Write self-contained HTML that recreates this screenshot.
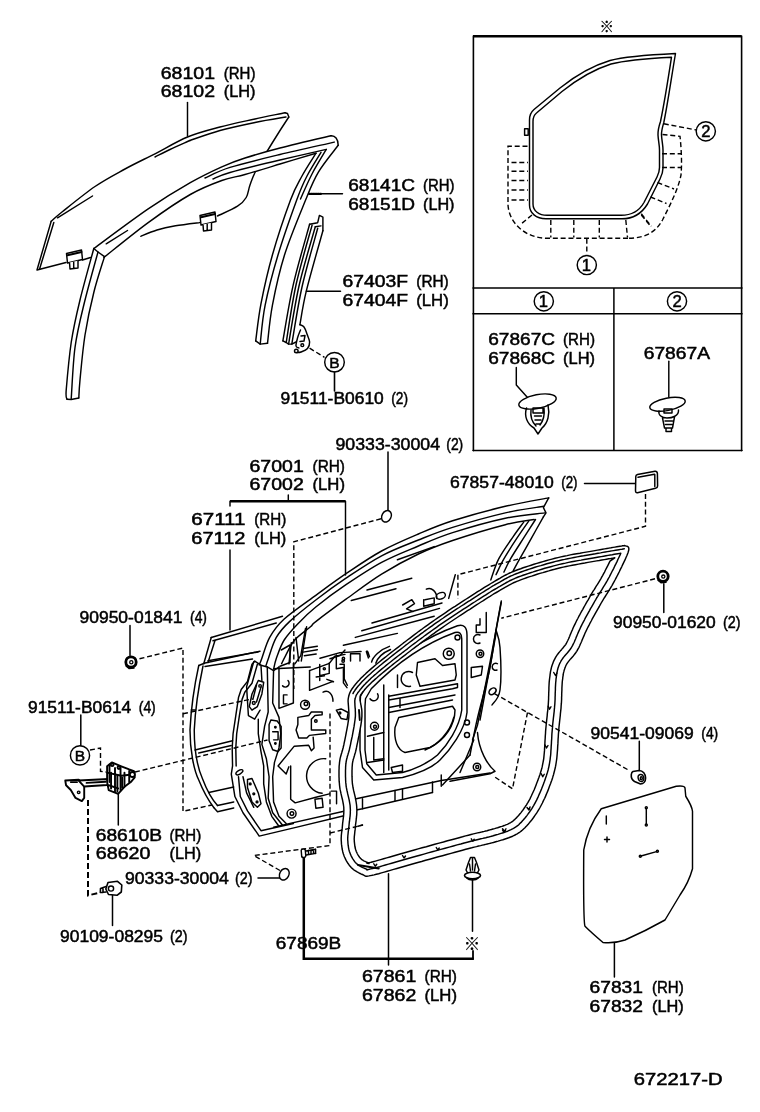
<!DOCTYPE html>
<html><head><meta charset="utf-8"><title>672217-D</title>
<style>
html,body{margin:0;padding:0;background:#fff}
svg{display:block}
text{font-family:"Liberation Sans",sans-serif;fill:#000;stroke:#000;stroke-width:.5}
.ref{font-family:"Liberation Sans","Noto Sans CJK JP","DejaVu Sans",sans-serif;stroke-width:.2}
.l,.t,.k,.d,.dk,.w{vector-effect:non-scaling-stroke}
.l{fill:none;stroke:#000;stroke-width:1.45;stroke-linecap:round;stroke-linejoin:round}
.h{fill:none;stroke:#000;stroke-width:1.9;stroke-linecap:round;stroke-linejoin:round;vector-effect:non-scaling-stroke}
.wh{fill:#fff;stroke:#000;stroke-width:1.9;stroke-linejoin:round;vector-effect:non-scaling-stroke}
.t{fill:none;stroke:#000;stroke-width:1}
.k{fill:none;stroke:#000;stroke-width:2.5}
.d{fill:none;stroke:#000;stroke-width:1.4;stroke-dasharray:5 2.8}
.dk{fill:none;stroke:#000;stroke-width:2;stroke-dasharray:6 3}
.w{fill:#fff;stroke:#000;stroke-width:1.45;stroke-linejoin:round}
</style></head><body>
<svg width="760" height="1112" viewBox="0 0 760 1112">
<rect width="760" height="1112" fill="#fff"/>
<!-- ===== inset box ===== -->
<g id="inset">
<path class="k" d="M473 36.2H741.5"/>
<path class="l" style="stroke-width:1.6" d="M473.4 36V450.6M741.6 36V450.6"/>
<path class="l" style="stroke-width:1.5" d="M473 288H742M473 313.8H742M473 450.6H742M613.9 288V450.6"/>
<!-- mini weatherstrip loop (double line) -->
<path class="l" d="M529.5 205V120C529.5 115 531 112 534 109.5L560 88C575 76 590 66.5 610 60.5C625 56.5 645 55 675.5 53.5C671 80 667.5 105 663.8 122.500C662.500 127 661.300 131 661.500 135C661.800 141 663 145 663 150V168C663 172 662 175 660 179L647.500 204C642 213 635 218.800 622 218.800H546C536 218.800 529.5 213 529.500 205Z"/>
<path class="l" d="M533 204V121.500C533 117.500 534 115 536.5 113L562 91.500C577 79.500 592 70 611 64C626 60 645 58.500 671.5 57.2C668 80 664 105 660.500 121.500C659 126 657.800 131 658 135C658.300 141 659.500 145 659.500 150V167.500C659.500 171 658.500 174 657 177L644 202.500C639.500 210.500 633 215.300 621 215.300H547C539 215.300 533 211 533 204Z"/>
<rect class="l" x="524.6" y="128.800" width="3.600" height="6.400"/>
<!-- dashed region 1 -->
<path class="d" d="M527.500 146.300H508V205C509 222 524 238.300 548 238.300H628"/>
<path class="d" style="stroke-width:1.6" d="M511.500 162.500H528M511.500 171.300H528M511.500 180.500H528M511.500 190H528M511.500 200H528"/>
<path class="d" d="M550.800 220V237.500M573.800 220V237.500M599.300 220V237.500M625.800 220L627.500 237.500M532 215L521 224M641.300 215L650 225.500"/>
<path class="d" d="M586.800 238.800V254.500"/>
<!-- dashed region 2 -->
<path class="d" d="M663.800 123.800L696.500 130M662.500 134.500L680 136.300C681.500 150 682 165 681 175C678 190 670 205 662.500 220C657 230 648 238.300 628 238.300"/>
<path class="d" d="M662 153.800H681M662 167.500H681M657.500 182.500L674 189M650.500 197L666.500 203.500M641.300 213.800L651.300 226.300"/>
<circle class="l" cx="586.800" cy="265" r="9.600"/>
<circle class="l" cx="705.800" cy="131.300" r="9.600"/>
<circle class="l" cx="543.800" cy="301.300" r="9.600"/>
<circle class="l" cx="677" cy="301.300" r="9.600"/>
<!-- clips -->
<path class="l" d="M516.300 367.500V385L527.500 397.500"/>
<g transform="translate(537.5,401.5) rotate(-11)"><ellipse class="w" cx="0" cy="0" rx="19" ry="6.800"/></g>
<path class="l" d="M526.500 408C524 416 527 424 534 428L538 434L542 428C548 423 550 414 548 405M531 410C530 418 533 423 536 426M544 408C545 416 543 421 540 425M533 408H543V413H533ZM534.500 416H541.500M535 420H541M536 424H540.500"/>
<path class="l" d="M668.800 361.300V397"/>
<g transform="translate(667.5,404.300) rotate(-11)"><ellipse class="w" cx="0" cy="0" rx="18" ry="6.200"/></g>
<path class="l" d="M659 411C658 415 662 418 667 418C672 418 679 416 678.500 410M664 409H672V413H664ZM662.500 418L664.500 428H672.500L674.500 417M665 421H672.500M665.500 424.500H672M666 428V431.500H671.500V428"/>
</g>
<g id="glass">
<path class="l" d="M51.2 221.2C53.0 219.7 54.7 217.8 62.0 212.0C69.3 206.2 84.5 193.7 95.0 186.5C105.5 179.3 115.0 174.5 125.0 169.0C135.0 163.5 144.6 159.1 155.0 153.8C165.4 148.4 176.7 141.5 187.5 137.0C198.3 132.5 208.8 130.0 220.0 127.0C231.2 124.0 244.2 121.4 255.0 119.0C265.8 116.6 280.0 113.8 285.0 112.7"/>
<path class="l" d="M285.0 112.7L287.5 113.5L288.8 117.0"/>
<path class="l" d="M288.8 117.0C286.0 121.2 277.9 133.7 272.5 142.5C267.1 151.3 260.0 162.9 256.2 170.0C252.5 177.1 251.7 180.4 250.0 185.0C248.3 189.6 248.3 194.0 246.2 197.5C244.2 201.0 242.3 203.2 237.5 206.2C232.7 209.3 220.8 214.4 217.5 216.0"/>
<path class="l" d="M190.0 140.5C195.0 138.8 209.2 133.5 220.0 130.5C230.8 127.5 244.0 124.8 255.0 122.5C266.0 120.2 280.8 117.9 286.0 117.0"/>
<path class="l" d="M155.0 157.0C157.5 155.8 164.2 152.2 170.0 149.5C175.8 146.8 186.7 142.0 190.0 140.5"/>
<path class="l" d="M57.5 217.8L92.5 196.0"/>
<path class="l" d="M51.2 221.2L37.0 270.0L66.0 262.5"/>
<path class="l" d="M53.8 222.5L39.5 269.3"/>
<path class="l" d="M82.5 260.0L90.5 257.5"/>
<path class="l" d="M140.8 236.3C143.5 235.2 151.2 231.8 157.0 230.0C162.8 228.2 168.4 227.0 175.5 225.8C182.6 224.6 195.7 223.1 199.7 222.6"/>
<path class="w" d="M66.5 253.5L81.5 250.0L82.5 259.5L67.5 263.0Z"/><path class="l" style="stroke-width:2" d="M67.5 255.3L81.5 252.0"/><path class="w" d="M69.5 262.5L70.0 269.0L78.0 268.0L78.0 260.7M73.7 261.7V268.5"/>
<path class="w" d="M200 215.5L215 212.0L216 221.5L201 225.0Z"/><path class="l" style="stroke-width:2" d="M201 217.3L215 214.0"/><path class="w" d="M203 224.5L203.5 231.0L211.5 230.0L211.5 222.7M207.2 223.7V230.5"/>
</g>
<path class="l" d="M187.5 102.5V136"/>
<g id="runch">
<path fill="#fff" stroke="none" d="M93.8 248.5L96.5 246.5L99.9 244.0L103.9 241.1L108.4 237.7L113.2 234.1L118.4 230.3L123.7 226.5L129.0 222.6L134.2 218.8L139.2 215.2L143.9 211.9L148.2 208.9L152.2 206.2L156.1 203.6L159.8 201.1L163.5 198.8L167.2 196.5L170.7 194.3L174.1 192.1L177.5 190.1L180.8 188.1L184.0 186.2L187.2 184.4L190.3 182.6L193.3 180.9L196.3 179.3L199.1 177.7L201.9 176.3L204.6 174.9L207.2 173.6L209.8 172.4L212.3 171.2L214.8 170.0L217.2 168.9L219.5 167.8L221.8 166.8L224.0 165.8L226.0 164.9L227.9 164.1L229.7 163.4L231.5 162.7L233.2 162.0L234.9 161.4L236.7 160.8L238.6 160.1L240.5 159.5L242.7 158.8L245.0 158.0L247.5 157.2L250.0 156.4L252.5 155.6L255.2 154.8L257.9 154.0L260.8 153.2L263.7 152.4L266.7 151.5L269.8 150.7L273.1 149.8L276.5 148.9L280.0 148.0L283.9 147.0L288.2 146.0L292.8 144.8L297.7 143.6L302.7 142.5L307.7 141.3L312.6 140.1L317.2 139.0L321.5 138.0L325.3 137.2L328.5 136.4L331.0 135.8L316.0 153.2L314.3 153.7L312.1 154.4L309.5 155.1L306.6 156.0L303.5 156.9L300.2 157.9L296.8 159.0L293.3 160.0L289.8 161.1L286.4 162.1L283.1 163.1L280.0 164.0L277.0 164.9L274.0 165.8L270.9 166.8L267.8 167.7L264.7 168.6L261.7 169.5L258.7 170.5L255.8 171.3L252.9 172.2L250.1 173.0L247.5 173.8L245.0 174.5L242.7 175.1L240.5 175.7L238.6 176.1L236.7 176.5L234.9 176.9L233.2 177.3L231.5 177.7L229.7 178.1L227.9 178.5L226.0 179.1L224.0 179.7L221.8 180.5L219.5 181.3L217.2 182.2L214.8 183.1L212.3 184.1L209.8 185.1L207.2 186.1L204.6 187.3L201.9 188.5L199.1 189.8L196.3 191.3L193.3 192.8L190.3 194.5L187.2 196.3L183.9 198.3L180.6 200.4L177.1 202.6L173.6 204.9L170.0 207.2L166.4 209.7L162.8 212.2L159.1 214.8L155.5 217.4L151.8 220.0L148.2 222.6L144.4 225.4L140.4 228.4L136.2 231.6L132.0 235.0L127.7 238.4L123.4 241.8L119.3 245.0L115.5 248.1L111.9 251.0L108.7 253.5L106.0 255.7L103.9 257.4Z"/>
<path class="l" d="M93.8 248.5C102.9 241.9 132.1 219.9 148.2 208.9C164.3 197.9 178.0 189.6 190.3 182.6C202.6 175.6 212.7 170.9 221.8 166.8C230.9 162.7 235.3 161.1 245.0 158.0C254.7 154.9 265.7 151.7 280.0 148.0C294.3 144.3 322.5 137.8 331.0 135.8"/>
<path class="l" d="M331 135.8C335 135.5 338.2 139 338.2 145.3"/>
<path class="l" d="M103.9 257.4C111.3 251.6 133.8 233.1 148.2 222.6C162.6 212.1 178.0 201.5 190.3 194.5C202.6 187.5 212.7 183.8 221.8 180.5C230.9 177.2 235.3 177.2 245.0 174.5C254.7 171.8 268.2 167.6 280.0 164.0C291.8 160.4 310.0 155.0 316.0 153.2"/>
<path class="l" d="M205.0 178.0C209.2 176.2 217.5 171.3 230.0 167.4C242.5 163.5 262.6 158.7 280.0 154.5C297.4 150.3 325.2 144.2 334.2 142.1"/>
<path class="l" d="M213.0 179.0C215.8 177.9 218.8 175.7 230.0 172.5C241.2 169.3 263.9 163.8 280.0 160.0C296.1 156.2 318.6 151.2 326.3 149.4"/>
<path class="l" d="M106.2 243.8L127.5 230.5"/>
<path class="l" d="M93.8 248.5L98.0 252.0L104.5 256.6"/>
<path class="l" d="M316.0 153.2C313.7 157.0 306.2 168.2 302.0 176.0C297.8 183.8 295.4 186.8 290.5 200.0C285.6 213.2 277.3 237.7 272.4 255.0C267.5 272.3 263.8 289.3 261.0 303.6C258.2 317.9 256.6 334.7 255.7 340.9"/>
<path class="l" d="M321.0 152.4C318.7 156.3 311.1 168.1 307.0 176.0C302.9 183.9 301.5 186.8 296.7 200.0C291.9 213.2 283.3 237.4 278.0 255.0C272.7 272.6 268.1 290.4 265.1 305.3C262.1 320.2 261.0 337.6 260.2 344.1"/>
<path class="l" d="M326.3 149.4C323.9 153.5 316.3 165.7 312.0 174.0C307.7 182.3 302.4 194.8 300.5 199.0"/>
<path class="l" d="M338.2 145.3C334.9 149.8 323.8 163.0 318.4 172.1C313.0 181.2 311.2 186.2 305.6 200.0C300.0 213.8 290.0 237.4 284.5 255.0C279.0 272.6 275.2 290.6 272.4 305.3C269.6 320.0 268.3 337.0 267.5 343.3"/>
<path class="l" d="M255.7 340.9L260.2 344.1L267.5 343.3"/>
<path class="l" d="M93.8 248.5C91.5 257.1 83.8 284.3 80.0 300.0C76.2 315.7 73.5 327.5 71.2 342.5C69.0 357.5 67.0 380.5 66.2 390.0C65.5 399.5 66.9 397.8 67.0 399.3"/>
<path class="l" d="M98.0 252.0C95.6 260.8 87.6 289.1 83.8 305.0C79.9 320.9 77.1 331.9 75.0 347.5C72.9 363.1 71.9 390.2 71.2 398.8"/>
<path class="l" d="M104.5 256.6C102.7 262.6 97.0 279.4 93.8 292.5C90.5 305.6 87.3 320.4 85.0 335.0C82.7 349.6 81.0 369.5 80.0 380.0C79.0 390.5 79.0 395.0 78.8 398.0"/>
<path class="l" d="M67.0 399.3L71.2 399.5L78.8 398.0"/>
</g>
<path class="l" d="M308.8 193.8H342.5"/>
<path class="l" style="stroke-width:2.2;stroke-dasharray:1 1.2" d="M309 193.800H322"/>
<g id="divbar">
<path class="l" d="M309.6 224.3C306.9 234.3 297.8 264.8 293.4 284.2C288.9 303.6 284.6 331.4 282.9 340.9"/>
<path class="l" d="M312.1 225.1C309.4 235.1 300.3 265.4 296.0 285.0C291.7 304.6 287.8 332.9 286.2 342.5"/>
<path class="l" d="M315.3 226.7C312.6 236.6 303.4 266.4 299.0 286.0C294.6 305.6 290.3 334.4 288.6 344.1"/>
<path class="l" d="M317.7 228.3C315.1 238.1 306.3 267.7 302.0 287.0C297.7 306.3 293.5 334.6 291.8 344.1"/>
<path class="l" d="M322.9 230.8C320.1 240.8 310.2 275.1 306.4 290.7C302.6 306.3 301.0 319.0 299.9 324.7"/>
<path class="l" d="M309.6 224.3L317.7 222.7L319.4 215.4L322.9 217.2L322.9 230.8"/>
<path class="l" d="M315.3 226.7L321.0 225.9"/>
<path class="l" d="M282.9 340.9L286.2 342.5L288.6 344.1L291.8 344.1L296.0 342.0"/>
<path class="l" d="M299.9 324.7C300.6 325.1 302.8 325.4 304.0 327.0C305.2 328.6 306.1 331.5 307.0 334.0C307.9 336.5 309.5 339.6 309.6 342.0C309.7 344.4 308.9 346.8 307.5 348.5C306.1 350.2 302.8 351.3 301.0 352.0C299.2 352.7 297.7 352.4 297.0 352.5"/>
<path class="l" d="M300.5 330.0C300.0 331.3 298.2 335.3 297.5 338.0C296.8 340.7 295.8 344.3 296.0 346.0C296.2 347.7 298.5 347.7 299.0 348.0"/>
<path class="l" d="M301.0 336.0L305.0 335.5L304.0 341.0L300.0 341.5"/>
<circle class="l" cx="296.3" cy="351" r="1.8"/><circle class="l" cx="302.3" cy="345.2" r="1.4"/>
</g>
<path class="l" d="M306.4 291.2H340.5" style="stroke-width:1.5"/>
<path class="d" d="M309.6 348.2L324.5 357.3"/>
<circle class="l" cx="334.5" cy="362.2" r="9.8"/>
<path class="l" d="M334.5 372V391" style="stroke-width:1.6"/>
<g id="panel67111">
<g transform="translate(180,600) scale(0.25000)">
<path class="l" d="M125 150L410 65"/>
<path class="l" d="M132 163L385 92"/>
<path class="l" d="M125 150L95 255"/>
<path class="l" d="M140 162L112 250"/>
<path class="l" d="M75 262L100 252L320 205"/>
<path class="l" d="M112 243L312 208"/>
<path class="l" d="M100 266L290 236"/>
<path class="l" d="M75 262C60 330 45 420 40 520C40 600 55 680 75 720C95 770 120 810 135 830"/>
<path class="l" d="M92 264C78 330 62 420 57 520C57 600 70 670 90 715C105 755 130 800 150 822"/>
<path class="l" d="M135 830L150 847L215 832"/>
<path class="l" d="M150 822L215 808"/>
<path class="l" d="M60 600L210 563"/>
<path class="l" d="M75 612L205 582"/>
<path class="l" d="M115 770L215 748"/>
<path class="l" d="M45 440L62 440"/>
<path class="l" d="M405 200L440 180L440 250L400 265"/>
</g>
</g>
<g id="hinge">
<g transform="translate(225,640) scale(0.17992)">
<path class="l" d="M165 118L150 135L125 230L90 275L75 320L60 420L45 520L40 600L42 700L35 745L55 870L100 960L180 1075L190 1090L400 1040L667 975"/>
<path class="l" d="M180 135L150 240L110 290L95 330L80 420L65 520L60 600L62 700"/>
<path class="l" d="M75 760L85 870L125 950L200 1060L380 1020"/>
<path class="l" d="M165 118L200 140L235 150L270 170L300 150"/>
<path class="l" d="M185 225L215 235L205 300L180 370L150 390L135 370L150 300Z"/>
<path class="l" d="M160 120L120 260L130 420L165 440L195 390"/>
<path class="l" d="M175 250L155 330M200 262L175 345"/>
<path class="l" d="M125 775L150 770L185 850L200 910L180 930L150 900L125 820Z"/>
<path class="l" d="M100 760L120 850L160 930"/>
<path class="l" d="M270 170L265 350L300 430L310 520L300 600L275 680L265 760L270 900L300 980L340 1020"/>
<path class="l" d="M235 150L240 400L220 480L205 580L230 660L245 760L240 880L265 960L320 1030"/>
<path class="l" d="M200 140L205 225M185 440L185 520L200 620L215 700L215 800L230 900L260 980L300 1035"/>
<path class="l" d="M255 445L290 450L312 480L312 600L295 620L265 610L245 560L245 470Z"/>
<path class="l" d="M265 510L295 510L295 555L270 555"/>
<path class="l" d="M300 150L300 380L380 350L380 130"/>
<path class="l" d="M320 255A20 20 0 1 0 350 225"/>
<path class="l" d="M345 305L325 305L325 355L345 355"/>
<path class="l" d="M470 170L580 130L610 90L667 80"/>
<path class="l" d="M470 170L470 280L600 230"/>
<path class="l" d="M545 290C575 275 600 300 600 340"/>
<path class="l" d="M405 430L465 420L480 400L540 400L540 415L500 420L480 440L480 500L560 500L560 520L470 530L455 545L410 545L395 500L405 470Z"/>
<path class="l" d="M490 540L495 600L480 615L465 585L385 590L295 700L340 745L355 705"/>
<path class="l" d="M560 660A95 95 0 1 0 540 852"/>
<path class="l" d="M365 700L365 885L390 905L500 875L580 855"/>
<path class="l" d="M500 885L540 880L545 930L505 935Z"/>
<path class="l" d="M590 840L620 840L620 910"/>
<path class="l" d="M270 1040L667 950"/>
</g>
<g transform="translate(225,640) scale(0.17992)"><ellipse class="l" cx="80" cy="735" rx="22" ry="10" transform="rotate(-30 80 735)"/><circle class="l" cx="195" cy="255" r="7"/><circle class="l" cx="160" cy="350" r="8"/><circle class="l" cx="140" cy="800" r="5"/><circle class="l" cx="160" cy="855" r="5"/><circle class="l" cx="178" cy="900" r="5"/><circle class="l" cx="280" cy="485" r="4"/><circle class="l" cx="280" cy="575" r="4"/><circle class="l" cx="552" cy="160" r="6"/><circle class="l" cx="445" cy="360" r="25"/><circle class="l" cx="450" cy="355" r="10"/><circle class="l" cx="505" cy="450" r="7"/><circle class="l" cx="370" cy="965" r="25"/><circle class="l" cx="372" cy="965" r="10"/></g>
</g>
<g id="winframe">
<path class="l" d="M259.2 665.0C259.6 663.9 260.1 663.0 261.8 658.4C263.6 653.8 266.0 644.0 269.7 637.4C273.4 630.8 276.5 626.0 284.2 619.0C291.9 612.0 305.5 602.8 315.8 595.3C326.1 587.8 335.0 581.1 346.0 573.7C357.0 566.3 369.5 557.6 381.6 551.0C393.7 544.4 406.6 539.0 418.4 534.0C430.2 529.0 438.1 525.4 452.6 520.8C467.1 516.2 489.3 510.1 505.3 506.3C521.3 502.5 541.5 499.3 548.7 497.9"/>
<path class="l" d="M265.8 666.3C266.2 665.0 266.6 663.2 268.4 658.4C270.1 653.6 272.8 643.5 276.3 637.4C279.8 631.3 282.9 627.8 289.5 621.6C296.1 615.4 306.4 607.2 315.8 600.0C325.2 592.8 335.0 585.6 346.0 578.2C357.0 570.8 369.5 562.2 381.6 555.8C393.7 549.4 406.6 544.7 418.4 540.0C430.2 535.3 438.1 531.9 452.6 527.4C467.1 522.9 490.2 516.4 505.3 512.9C520.4 509.4 537.0 507.4 543.4 506.3"/>
<path class="l" d="M273.7 669.0C274.1 667.2 274.6 663.2 276.3 658.4C278.1 653.6 280.5 645.9 284.2 640.0C287.9 634.1 293.4 628.4 298.7 622.9C304.0 617.4 307.9 613.4 315.8 607.0C323.7 600.6 335.0 592.1 346.0 584.7C357.0 577.3 369.5 568.9 381.6 562.4C393.7 555.9 406.6 551.0 418.4 546.0C430.2 541.0 438.1 537.2 452.6 532.6C467.1 528.0 489.9 521.5 505.3 518.2C520.6 514.9 538.1 513.8 544.7 512.9"/>
<path class="l" d="M281.6 663.7C282.2 662.4 283.3 659.8 285.5 655.8C287.7 651.8 290.5 644.8 294.7 640.0C298.9 635.2 307.0 629.9 310.5 626.8C314.0 623.7 309.9 626.2 315.8 621.6C321.7 617.0 335.0 607.1 346.0 599.2C357.0 591.3 369.5 581.7 381.6 574.2C393.7 566.7 406.6 559.6 418.4 554.0C430.2 548.4 438.1 545.4 452.6 540.5C467.1 535.6 491.7 528.2 505.3 524.7C518.9 521.2 529.4 520.4 534.2 519.5"/>
<path class="l" d="M548.7 497.9L543.4 507.6L546.0 512.9L543.4 516.8"/>
<path class="l" d="M543.4 516.8C541.4 520.3 535.5 530.9 531.6 537.9C527.7 544.9 522.8 553.4 519.7 558.9C516.6 564.4 514.3 568.8 513.2 570.8"/>
<path class="l" d="M535.5 519.5C533.5 522.6 527.9 531.3 523.7 537.9C519.5 544.5 513.8 553.2 510.5 558.9C507.2 564.6 505.0 569.9 503.9 572.1"/>
<path class="l" d="M528.9 520.8C526.9 523.6 521.3 531.5 517.1 537.9C512.9 544.2 507.4 552.8 503.9 558.9C500.4 565.0 497.3 572.1 496.0 574.7"/>
<path class="l" d="M523.7 522.1C522.0 524.5 517.4 530.5 513.2 536.6C509.0 542.7 502.4 551.7 498.7 558.9C495.0 566.1 492.1 576.5 490.8 580.0"/>
<path class="l" d="M296.0 637.4L298.7 661.0"/>
<path class="l" d="M306.6 626.8L301.3 661.0"/>
<path class="l" d="M397.4 559.7L434.2 546.6"/>
<path class="l" d="M367.0 590.0L411.8 578.2"/>
<path class="l" d="M351.3 600.5L396.0 588.7"/>
<path class="l" d="M361.8 630.8L439.5 608.4"/>
<path class="l" d="M355.3 637.4L434.2 616.3"/>
<path class="l" d="M343.4 645.3L397.4 633.4"/>
<path class="l" d="M372.0 623.0L442.0 603.0"/>
</g>
<path class="k" d="M230 501.3H345.5"/>
<path class="l" d="M288.3 495V501M230 501.3V506M230 550V630M345.5 501.3V575"/>
<g id="inner">
<g transform="translate(330,600) scale(0.25000)">
<path class="l" d="M120 420L122 385L150 335Q320 171 510 103C535 95 548 110 548 140L548 450C540 520 480 600 440 640C400 680 330 700 290 710L175 720L130 670L120 600Z"/>
<path class="l" d="M140 425L142 395L165 355Q322 195 500 130C518 125 527 135 527 155L527 440C517 510 470 580 430 620C390 655 330 680 290 690L185 700L147 655L140 600Z"/>
<path class="l" d="M215 340L215 690"/>
<path class="l" d="M235 380L235 680"/>
<path class="l" d="M190 375A16 16 0 1 1 160 395"/>
<path class="l" d="M150 545L215 530"/>
<path class="l" d="M175 550L175 640L215 635"/>
<path class="l" d="M150 650L215 640"/>
<path class="l" d="M350 250L420 235L450 262L500 255L505 300L500 320L360 345L345 300Z"/>
<path class="l" d="M330 290A30 30 0 1 0 322 345"/>
<path class="l" d="M270 300L270 350"/>
<path class="l" d="M235 385L510 335L510 350L490 355L235 400"/>
<path class="l" d="M280 395L280 430"/>
<path class="l" d="M235 430L500 380"/>
<path class="l" d="M235 450L490 400"/>
<path class="l" d="M275 470L490 425L500 440C500 500 460 560 400 590L300 610C270 600 255 560 260 510Z"/>
<path class="l" d="M380 600C430 580 480 530 495 470"/>
<path class="l" d="M245 670L290 660L290 685L250 690Z"/>
<path class="l" d="M685 10L640 250L590 500L570 560"/>
<path class="l" d="M665 130L600 480"/>
<path class="l" d="M600 75L600 100L585 100L585 130L625 130L625 50"/>
<path class="l" d="M600 140A18 18 0 1 0 600 172"/>
<path class="l" d="M565 270L610 265L605 300L565 310Z"/>
<path class="l" d="M670 255A14 14 0 1 0 668 280"/>
<path class="l" d="M590 530C595 600 630 660 660 685L640 695L480 725"/>
<path class="l" d="M575 560L520 690"/>
<path class="l" d="M560 620L450 740"/>
<path class="l" d="M105 795L445 722L640 692"/>
<path class="l" d="M105 840L130 835L410 770"/>
<path class="l" d="M130 795L130 835"/>
<path class="l" d="M260 762L260 802"/>
<path class="l" d="M290 755L290 795"/>
<path class="l" d="M410 728L410 770"/>
<path class="l" d="M445 700L445 745"/>
<path class="l" d="M0 235L40 222L60 200"/>
<path class="l" d="M112 905L130 900"/>
</g>
<g transform="translate(330,600) scale(0.25)"><circle class="l" cx="178" cy="505" r="16"/><circle class="l" cx="180" cy="507" r="6"/><circle class="l" cx="475" cy="215" r="22"/><circle class="l" cx="477" cy="213" r="9"/><circle class="l" cx="510" cy="150" r="10"/><circle class="l" cx="600" cy="215" r="15"/><circle class="l" cx="602" cy="215" r="6"/><ellipse class="l" cx="650" cy="365" rx="16" ry="11" transform="rotate(-40 650 365)"/><circle class="l" cx="548" cy="490" r="10"/><circle class="l" cx="548" cy="540" r="10"/><circle class="l" cx="588" cy="668" r="15"/><circle class="l" cx="589" cy="668" r="6"/></g>
</g>
<path class="l" d="M501.3 601.0C500.4 605.8 498.0 618.5 496.0 630.0C494.0 641.5 492.6 655.3 489.5 670.0C486.4 684.7 480.8 703.8 477.5 718.0C474.2 732.2 471.2 748.8 470.0 755.0"/>
<path class="l" d="M496.0 630.0C496.7 632.9 499.3 637.5 500.0 647.5C500.7 657.5 501.3 680.4 500.0 690.0C498.7 699.6 493.3 702.5 492.0 705.0"/>
<g transform="translate(400,480) scale(0.26316)">
<path class="l" d="M10 475L45 455L55 470L25 490L50 500"/>
<path class="l" d="M100 415C120 405 140 425 140 450"/>
<path class="l" d="M90 455L90 480L130 470L130 448L95 455"/>
<path class="l" d="M210 360L185 450"/>
</g>
<g transform="translate(400,480) scale(0.26316)"><ellipse class="l" cx="155" cy="440" rx="18" ry="12" transform="rotate(-20 155 440)"/></g>
<g transform="translate(340,580) scale(0.21053)">
<path class="l" d="M0 345L100 340"/>
<path class="l" d="M50 385L50 350L95 350L95 385"/>
<path class="l" d="M125 340L135 370L128 345"/>
<path class="l" d="M150 390C155 365 190 330 235 315"/>
<path class="l" d="M170 395C178 372 205 345 240 330"/>
<path class="l" d="M0 400L20 400L20 470L35 500"/>
<path class="l" d="M-95 372L0 345"/>
</g>
<g transform="translate(340,580) scale(0.21053)"><circle class="l" cx="15" cy="385" r="6"/></g>
<g transform="translate(225,600) scale(0.23684)">
<path class="l" d="M205 290L360 283"/>
<path class="l" d="M330 205L390 195"/>
<path class="l" d="M330 220L390 210"/>
<path class="l" d="M335 235L385 228"/>
<path class="l" d="M400 272L400 320L440 310L440 266"/>
<path class="l" d="M385 325L420 320M400 322L400 340"/>
<path class="l" d="M430 335L458 345"/>
<path class="l" d="M470 232L470 290L500 285"/>
<path class="l" d="M500 290L500 350L515 370"/>
<path class="l" d="M600 215L610 240L603 218"/>
<path class="l" d="M470 465L490 460L520 475L515 505L490 500Z"/>
<path class="l" d="M280 180L270 270"/>
<path class="l" d="M340 120L320 235L295 270"/>
</g>
<g transform="translate(225,600) scale(0.23684)"><circle class="l" cx="500" cy="247" r="5"/><circle class="l" cx="485" cy="477" r="4"/></g>
<g id="ws67861">
<path d="M624.7 545.5L624.9 545.7L625.2 545.8L625.6 545.9L626.0 546.0L626.5 546.1L627.0 546.2L627.4 546.4L627.9 546.7L628.3 547.1L628.6 547.6L628.8 548.2L628.8 548.9L628.8 549.9L628.5 551.0L628.1 552.4L627.5 554.0L626.8 555.8L625.9 557.7L625.0 559.9L623.9 562.1L622.8 564.4L621.7 566.8L620.5 569.1L619.4 571.5L618.2 573.8L617.1 576.0L616.0 578.1L615.0 580.0L614.0 581.8L613.0 583.6L612.1 585.3L611.1 587.0L610.1 588.6L609.1 590.2L608.1 591.8L607.2 593.3L606.2 594.9L605.2 596.5L604.2 598.0L603.2 599.7L602.2 601.3L601.2 603.0L600.3 604.7L599.3 606.5L598.2 608.3L597.2 610.1L596.2 611.9L595.2 613.7L594.1 615.6L593.1 617.4L592.1 619.2L591.2 621.0L590.2 622.8L589.3 624.6L588.4 626.3L587.5 628.0L586.7 629.7L585.9 631.4L585.1 633.0L584.4 634.7L583.7 636.4L583.0 638.0L582.3 639.6L581.7 641.2L581.0 642.8L580.3 644.3L579.7 645.8L579.0 647.3L578.2 648.7L577.5 650.0L576.7 651.3L575.9 652.5L575.0 653.7L574.2 654.8L573.3 655.9L572.4 656.9L571.5 657.9L570.6 658.9L569.8 659.9L569.0 660.9L568.2 661.9L567.5 662.9L566.8 663.9L566.2 665.0L565.7 666.0L565.3 667.1L564.9 668.0L564.6 669.0L564.3 669.9L564.0 670.9L563.8 671.9L563.5 672.9L563.3 673.9L563.2 675.0L563.0 676.1L562.8 677.3L562.7 678.6L562.5 680.0L562.3 681.5L562.2 683.0L562.1 684.7L562.0 686.4L561.9 688.2L561.9 690.0L561.8 691.9L561.7 693.8L561.7 695.7L561.6 697.6L561.6 699.5L561.5 701.3L561.4 703.2L561.2 705.0L561.1 706.8L561.0 708.5L560.8 710.2L560.6 711.9L560.4 713.6L560.3 715.3L560.1 717.0L559.9 718.8L559.7 720.5L559.5 722.3L559.3 724.1L559.1 726.0L558.9 728.0L558.8 730.0L558.6 732.1L558.4 734.3L558.3 736.6L558.1 739.0L558.0 741.5L557.9 743.9L557.7 746.4L557.6 748.9L557.4 751.3L557.2 753.7L557.0 756.1L556.8 758.3L556.5 760.5L556.2 762.5L555.9 764.4L555.6 766.2L555.2 768.0L554.8 769.7L554.4 771.3L554.0 772.8L553.6 774.4L553.1 775.9L552.7 777.4L552.2 778.9L551.7 780.4L551.1 781.9L550.6 783.4L550.0 785.0L549.4 786.6L548.8 788.3L548.2 789.9L547.5 791.6L546.8 793.2L546.1 794.9L545.4 796.6L544.7 798.2L543.9 799.8L543.1 801.4L542.4 803.0L541.6 804.5L540.8 806.0L540.0 807.5L539.2 808.9L538.3 810.3L537.5 811.7L536.6 813.1L535.7 814.4L534.8 815.7L533.9 817.0L533.0 818.3L532.1 819.5L531.1 820.7L530.2 821.8L529.3 822.9L528.4 824.0L527.5 825.0L526.6 826.0L525.8 826.8L525.0 827.7L524.1 828.5L523.3 829.2L522.5 830.0L521.7 830.7L520.9 831.3L520.0 832.0L519.1 832.6L518.2 833.2L517.2 833.8L516.1 834.4L515.0 835.0L513.8 835.6L512.6 836.2L511.3 836.7L510.0 837.2L508.7 837.7L507.3 838.2L505.8 838.7L504.4 839.2L502.9 839.7L501.4 840.1L499.8 840.6L498.2 841.1L496.6 841.5L495.0 842.0L493.4 842.5L491.8 842.9L490.3 843.3L488.8 843.6L487.3 844.0L485.7 844.4L484.1 844.8L482.4 845.1L480.6 845.6L478.6 846.0L476.5 846.6L474.2 847.1L471.7 847.8L468.9 848.5L465.8 849.3L462.5 850.2L458.8 851.2L455.0 852.3L451.0 853.4L446.8 854.5L442.5 855.7L438.3 856.8L434.0 858.0L429.7 859.2L425.6 860.3L421.6 861.5L417.8 862.5L414.2 863.5L410.7 864.5L407.2 865.5L403.8 866.5L400.3 867.5L396.9 868.5L393.6 869.4L390.3 870.4L387.2 871.3L384.2 872.1L381.4 872.9L378.7 873.7L376.3 874.3L374.1 874.9L372.1 875.3L370.4 875.6L369.0 875.9L367.9 876.1L367.0 876.2L366.3 876.2L365.8 876.2L365.4 876.1L365.0 875.9L364.7 875.8L364.4 875.5L364.1 875.3L363.7 875.0L363.2 874.8L362.5 874.5L361.7 874.2L360.9 873.9L360.1 873.5L359.3 873.1L358.5 872.7L357.6 872.2L356.7 871.7L355.9 871.2L355.1 870.7L354.2 870.1L353.4 869.5L352.7 868.8L351.9 868.2L351.2 867.5L350.6 866.8L349.9 866.0L349.3 865.2L348.7 864.4L348.1 863.5L347.5 862.7L347.0 861.8L346.4 860.8L345.9 859.9L345.4 858.9L345.0 857.9L344.5 857.0L344.1 856.0L343.8 855.0L343.4 854.0L343.1 853.0L342.8 852.0L342.6 850.9L342.3 849.8L342.1 848.7L342.0 847.7L341.8 846.6L341.7 845.5L341.5 844.4L341.4 843.3L341.4 842.2L341.3 841.1L341.2 840.0L341.2 838.9L341.2 837.9L341.3 836.8L341.3 835.8L341.4 834.7L341.5 833.7L341.6 832.7L341.8 831.6L341.9 830.5L342.0 829.5L342.2 828.4L342.3 827.3L342.4 826.1L342.5 825.0L342.6 823.8L342.7 822.7L342.9 821.5L343.0 820.3L343.2 819.1L343.3 817.9L343.5 816.7L343.6 815.5L343.7 814.2L343.8 812.9L343.8 811.6L343.9 810.3L343.8 808.9L343.8 807.5L343.6 806.0L343.4 804.5L343.1 803.0L342.8 801.4L342.5 799.8L342.1 798.2L341.7 796.6L341.3 794.9L340.9 793.2L340.6 791.6L340.2 789.9L339.9 788.3L339.7 786.6L339.5 785.0L339.4 783.4L339.2 781.7L339.1 780.1L339.1 778.4L339.0 776.8L339.0 775.1L339.0 773.4L339.0 771.8L339.0 770.2L339.1 768.6L339.1 767.0L339.2 765.5L339.4 764.0L339.5 762.5L339.7 761.1L339.9 759.8L340.1 758.6L340.4 757.4L340.7 756.3L341.0 755.2L341.3 754.1L341.7 752.9L342.0 751.8L342.4 750.6L342.7 749.3L343.1 748.0L343.4 746.5L343.8 745.0L344.1 743.3L344.5 741.5L344.9 739.6L345.3 737.6L345.7 735.6L346.1 733.5L346.5 731.4L346.9 729.3L347.3 727.1L347.7 725.1L348.0 723.1L348.3 721.1L348.6 719.2L348.8 717.5L348.9 715.8L348.9 714.2L348.9 712.7L348.8 711.1L348.7 709.6L348.6 708.2L348.5 706.8L348.4 705.4L348.3 704.1L348.2 702.8L348.1 701.5L348.1 700.3L348.2 699.1L348.4 697.9L348.6 696.8L348.9 695.8L349.1 694.8L349.4 693.9L349.7 693.1L350.1 692.2L350.5 691.4L350.9 690.6L351.4 689.8L351.9 689.0L352.5 688.2L353.2 687.3L353.9 686.3L354.7 685.3L355.5 684.2L356.4 683.2L357.4 682.1L358.3 681.0L359.4 679.9L360.4 678.8L361.6 677.6L362.8 676.4L364.0 675.2L365.4 674.0L366.8 672.6L368.3 671.3L369.9 669.9L371.6 668.4L373.4 666.9L375.3 665.2L377.4 663.5L379.6 661.7L381.8 659.9L384.1 658.1L386.5 656.2L388.9 654.3L391.3 652.4L393.8 650.5L396.2 648.6L398.6 646.8L400.9 645.0L403.2 643.2L405.5 641.5L407.7 639.8L410.0 638.1L412.2 636.4L414.5 634.7L416.7 633.0L418.9 631.3L421.2 629.7L423.4 628.0L425.7 626.4L427.9 624.8L430.2 623.2L432.4 621.6L434.7 620.0L437.0 618.4L439.2 616.9L441.5 615.3L443.8 613.8L446.0 612.3L448.3 610.7L450.6 609.2L452.8 607.7L455.1 606.3L457.3 604.8L459.6 603.3L461.8 601.9L464.1 600.4L466.3 599.0L468.5 597.6L470.8 596.1L473.1 594.6L475.4 593.2L477.6 591.7L479.9 590.3L482.2 588.8L484.4 587.4L486.6 586.1L488.8 584.8L490.9 583.5L492.9 582.3L494.9 581.1L496.8 580.0L498.6 579.0L500.2 578.1L501.7 577.2L503.1 576.4L504.4 575.7L505.7 575.0L507.0 574.3L508.4 573.7L509.7 573.0L511.2 572.4L512.7 571.7L514.5 571.0L516.3 570.3L518.4 569.5L520.7 568.7L523.1 567.8L525.6 567.0L528.3 566.1L531.1 565.2L533.9 564.3L536.9 563.4L539.9 562.5L542.9 561.6L545.9 560.7L548.9 559.9L552.0 559.1L555.0 558.3L557.9 557.6L560.9 556.9L563.9 556.2L567.1 555.6L570.2 554.9L573.5 554.3L576.7 553.7L579.9 553.2L583.0 552.6L586.1 552.1L589.2 551.6L592.1 551.1L594.9 550.6L597.5 550.1L600.0 549.7L602.4 549.3L604.7 548.9L606.9 548.5L609.0 548.1L611.1 547.8L613.1 547.4L615.0 547.1L616.8 546.8L618.4 546.5L620.0 546.3L621.4 546.1L622.6 545.8L623.7 545.7L624.7 545.5L614.8 557.8L612.9 558.1L610.8 558.5L608.7 558.8L606.5 559.2L604.2 559.6L601.8 560.0L599.3 560.5L596.7 560.9L593.8 561.4L590.9 561.9L587.9 562.4L584.8 563.0L581.7 563.5L578.5 564.1L575.4 564.7L572.3 565.3L569.2 565.9L566.1 566.5L563.2 567.1L560.4 567.8L557.5 568.5L554.6 569.3L551.7 570.0L548.7 570.9L545.8 571.7L542.8 572.6L539.9 573.4L537.1 574.3L534.3 575.2L531.6 576.1L529.0 576.9L526.5 577.8L524.2 578.6L522.0 579.4L520.1 580.1L518.3 580.8L516.8 581.4L515.4 582.0L514.1 582.5L512.9 583.1L511.8 583.7L510.6 584.3L509.5 584.9L508.2 585.6L506.9 586.3L505.4 587.2L503.8 588.1L502.0 589.1L500.2 590.2L498.3 591.3L496.3 592.5L494.2 593.7L492.1 595.0L490.0 596.4L487.8 597.7L485.5 599.1L483.3 600.6L481.0 602.0L478.7 603.5L476.5 604.9L474.2 606.4L472.0 607.8L469.8 609.3L467.5 610.7L465.3 612.1L463.1 613.6L460.8 615.1L458.6 616.5L456.4 618.0L454.1 619.5L451.9 621.0L449.6 622.5L447.4 624.0L445.2 625.5L442.9 627.1L440.7 628.6L438.5 630.2L436.3 631.7L434.1 633.3L431.8 634.9L429.6 636.5L427.4 638.2L425.2 639.8L423.0 641.4L420.7 643.1L418.5 644.8L416.3 646.4L414.1 648.1L411.8 649.8L409.6 651.5L407.3 653.3L405.0 655.1L402.6 656.9L400.2 658.8L397.8 660.7L395.4 662.5L393.0 664.4L390.7 666.3L388.4 668.1L386.2 669.9L384.1 671.6L382.1 673.3L380.2 674.9L378.5 676.3L376.9 677.8L375.3 679.1L373.9 680.4L372.5 681.6L371.3 682.8L370.1 684.0L369.0 685.1L368.0 686.1L367.0 687.1L366.1 688.1L365.2 689.0L364.4 690.0L363.7 690.9L362.9 691.8L362.2 692.7L361.6 693.6L361.1 694.3L360.6 694.9L360.4 695.5L360.2 696.0L360.1 696.4L360.1 696.8L360.1 697.2L360.0 697.6L360.0 698.0L360.0 698.6L360.0 699.2L360.0 699.9L360.0 700.3L360.1 700.8L360.3 701.4L360.4 702.2L360.6 703.2L360.8 704.3L361.1 705.6L361.3 707.1L361.6 708.7L361.8 710.4L361.9 712.3L361.9 714.4L361.9 716.5L361.7 718.7L361.5 720.8L361.2 722.9L360.9 725.1L360.5 727.2L360.1 729.4L359.7 731.6L359.3 733.9L358.9 736.0L358.4 738.2L358.0 740.3L357.6 742.3L357.2 744.2L356.8 746.0L356.5 747.7L356.1 749.5L355.7 751.2L355.3 752.7L354.8 754.2L354.5 755.5L354.1 756.7L353.8 757.8L353.5 758.8L353.2 759.6L353.0 760.5L352.8 761.3L352.7 762.1L352.5 762.9L352.4 763.9L352.3 765.1L352.2 766.4L352.1 767.7L352.1 769.1L352.0 770.5L352.0 772.0L352.0 773.4L352.0 774.9L352.0 776.4L352.1 777.9L352.1 779.4L352.2 780.9L352.3 782.3L352.4 783.7L352.6 784.9L352.8 786.1L353.0 787.5L353.3 788.9L353.6 790.4L354.0 792.0L354.4 793.6L354.8 795.3L355.2 797.0L355.5 798.8L355.9 800.6L356.2 802.5L356.5 804.5L356.7 806.5L356.8 808.4L356.9 810.2L356.8 812.0L356.8 813.6L356.7 815.2L356.5 816.7L356.4 818.2L356.2 819.5L356.1 820.8L355.9 822.0L355.8 823.1L355.6 824.1L355.5 825.1L355.5 826.1L355.3 827.4L355.2 828.6L355.1 829.9L354.9 831.0L354.8 832.1L354.7 833.2L354.6 834.2L354.5 835.1L354.4 835.9L354.3 836.7L354.3 837.5L354.2 838.2L354.2 838.8L354.2 839.5L354.3 840.4L354.3 841.3L354.4 842.2L354.5 843.1L354.6 844.0L354.7 844.8L354.8 845.7L354.9 846.5L355.1 847.3L355.2 848.0L355.4 848.7L355.6 849.4L355.8 850.0L356.0 850.6L356.2 851.2L356.5 851.9L356.8 852.5L357.1 853.2L357.4 853.8L357.8 854.5L358.1 855.1L358.5 855.7L358.9 856.3L359.2 856.8L359.6 857.3L360.0 857.7L360.3 858.1L360.6 858.5L360.9 858.7L361.2 859.0L361.5 859.3L361.9 859.6L362.4 859.9L362.9 860.2L363.4 860.6L363.9 860.9L364.5 861.2L365.0 861.4L365.6 861.7L366.1 861.9L366.6 862.1L367.4 862.4L368.7 863.0L369.0 863.6L367.4 863.3L366.8 863.1L367.9 862.9L369.3 862.6L371.1 862.2L373.1 861.7L375.4 861.1L377.9 860.4L380.7 859.6L383.6 858.8L386.7 857.9L389.9 857.0L393.3 856.0L396.7 855.0L400.1 854.0L403.7 853.0L407.2 852.0L410.7 851.0L414.3 850.0L418.1 848.9L422.1 847.8L426.3 846.7L430.5 845.5L434.8 844.3L439.1 843.1L443.4 842.0L447.5 840.8L451.6 839.7L455.4 838.7L459.1 837.7L462.5 836.8L465.6 835.9L468.4 835.2L471.0 834.5L473.4 833.9L475.6 833.4L477.6 832.9L479.5 832.5L481.2 832.1L482.8 831.7L484.3 831.4L485.7 831.0L487.1 830.7L488.5 830.3L489.9 829.9L491.4 829.5L493.0 829.0L494.6 828.6L496.1 828.1L497.6 827.7L499.1 827.2L500.4 826.8L501.8 826.4L503.0 826.0L504.2 825.5L505.3 825.1L506.3 824.7L507.3 824.3L508.2 823.9L509.0 823.5L509.8 823.0L510.6 822.6L511.3 822.2L511.9 821.8L512.5 821.4L513.0 821.0L513.5 820.6L514.0 820.1L514.6 819.7L515.1 819.1L515.7 818.5L516.4 817.9L517.1 817.1L517.9 816.3L518.6 815.4L519.4 814.5L520.2 813.6L521.0 812.6L521.7 811.6L522.6 810.5L523.4 809.4L524.1 808.3L524.9 807.2L525.7 806.0L526.5 804.8L527.2 803.6L528.0 802.4L528.7 801.1L529.4 799.9L530.1 798.6L530.7 797.2L531.4 795.8L532.1 794.3L532.8 792.8L533.5 791.3L534.2 789.8L534.8 788.3L535.4 786.7L536.0 785.2L536.6 783.6L537.2 782.1L537.8 780.6L538.3 779.0L538.9 777.5L539.4 776.1L539.9 774.7L540.3 773.4L540.7 772.0L541.1 770.7L541.5 769.4L541.9 768.0L542.2 766.7L542.5 765.2L542.8 763.7L543.1 762.1L543.4 760.5L543.7 758.8L543.9 756.9L544.1 754.8L544.3 752.7L544.5 750.4L544.6 748.0L544.8 745.6L544.9 743.2L545.0 740.7L545.2 738.3L545.3 735.9L545.5 733.5L545.6 731.1L545.8 728.9L546.0 726.8L546.2 724.8L546.4 722.8L546.6 720.9L546.8 719.1L547.0 717.3L547.2 715.6L547.3 713.9L547.5 712.2L547.7 710.6L547.9 709.0L548.0 707.3L548.2 705.7L548.3 704.1L548.4 702.4L548.5 700.7L548.6 698.9L548.6 697.1L548.7 695.3L548.7 693.4L548.8 691.5L548.9 689.6L548.9 687.7L549.0 685.8L549.1 683.9L549.2 682.1L549.4 680.2L549.6 678.5L549.8 677.0L550.0 675.6L550.1 674.3L550.3 673.0L550.5 671.7L550.8 670.3L551.1 669.0L551.4 667.6L551.8 666.2L552.3 664.8L552.8 663.4L553.3 662.0L553.9 660.6L554.7 659.1L555.6 657.4L556.7 655.7L557.7 654.2L558.8 652.8L559.8 651.6L560.8 650.4L561.7 649.4L562.5 648.4L563.3 647.5L564.0 646.6L564.7 645.8L565.3 645.0L565.8 644.3L566.3 643.5L566.8 642.5L567.3 641.5L567.9 640.3L568.5 639.0L569.1 637.6L569.7 636.2L570.3 634.6L571.0 633.0L571.7 631.3L572.5 629.6L573.2 627.8L574.1 625.9L575.0 624.1L575.9 622.2L576.8 620.3L577.8 618.5L578.7 616.7L579.7 614.9L580.7 613.0L581.7 611.1L582.8 609.3L583.8 607.4L584.9 605.5L585.9 603.7L586.9 601.9L588.0 600.1L589.0 598.3L590.0 596.5L591.0 594.7L592.1 592.9L593.1 591.2L594.2 589.6L595.2 588.0L596.1 586.4L597.1 584.9L598.1 583.3L599.0 581.8L599.9 580.3L600.8 578.8L601.7 577.2L602.6 575.6L603.5 573.9L604.5 572.1L605.5 570.0L606.6 567.9L607.8 565.6L608.9 563.4L610.0 561.1Z" fill="#fff" stroke="none"/>
<path class="l" d="M624.7 545.5L624.9 545.7L625.2 545.8L625.6 545.9L626.0 546.0L626.5 546.1L627.0 546.2L627.4 546.4L627.9 546.7L628.3 547.1L628.6 547.6L628.8 548.2L628.8 548.9L628.8 549.9L628.5 551.0L628.1 552.4L627.5 554.0L626.8 555.8L625.9 557.7L625.0 559.9L623.9 562.1L622.8 564.4L621.7 566.8L620.5 569.1L619.4 571.5L618.2 573.8L617.1 576.0L616.0 578.1L615.0 580.0L614.0 581.8L613.0 583.6L612.1 585.3L611.1 587.0L610.1 588.6L609.1 590.2L608.1 591.8L607.2 593.3L606.2 594.9L605.2 596.5L604.2 598.0L603.2 599.7L602.2 601.3L601.2 603.0L600.3 604.7L599.3 606.5L598.2 608.3L597.2 610.1L596.2 611.9L595.2 613.7L594.1 615.6L593.1 617.4L592.1 619.2L591.2 621.0L590.2 622.8L589.3 624.6L588.4 626.3L587.5 628.0L586.7 629.7L585.9 631.4L585.1 633.0L584.4 634.7L583.7 636.4L583.0 638.0L582.3 639.6L581.7 641.2L581.0 642.8L580.3 644.3L579.7 645.8L579.0 647.3L578.2 648.7L577.5 650.0L576.7 651.3L575.9 652.5L575.0 653.7L574.2 654.8L573.3 655.9L572.4 656.9L571.5 657.9L570.6 658.9L569.8 659.9L569.0 660.9L568.2 661.9L567.5 662.9L566.8 663.9L566.2 665.0L565.7 666.0L565.3 667.1L564.9 668.0L564.6 669.0L564.3 669.9L564.0 670.9L563.8 671.9L563.5 672.9L563.3 673.9L563.2 675.0L563.0 676.1L562.8 677.3L562.7 678.6L562.5 680.0L562.3 681.5L562.2 683.0L562.1 684.7L562.0 686.4L561.9 688.2L561.9 690.0L561.8 691.9L561.7 693.8L561.7 695.7L561.6 697.6L561.6 699.5L561.5 701.3L561.4 703.2L561.2 705.0L561.1 706.8L561.0 708.5L560.8 710.2L560.6 711.9L560.4 713.6L560.3 715.3L560.1 717.0L559.9 718.8L559.7 720.5L559.5 722.3L559.3 724.1L559.1 726.0L558.9 728.0L558.8 730.0L558.6 732.1L558.4 734.3L558.3 736.6L558.1 739.0L558.0 741.5L557.9 743.9L557.7 746.4L557.6 748.9L557.4 751.3L557.2 753.7L557.0 756.1L556.8 758.3L556.5 760.5L556.2 762.5L555.9 764.4L555.6 766.2L555.2 768.0L554.8 769.7L554.4 771.3L554.0 772.8L553.6 774.4L553.1 775.9L552.7 777.4L552.2 778.9L551.7 780.4L551.1 781.9L550.6 783.4L550.0 785.0L549.4 786.6L548.8 788.3L548.2 789.9L547.5 791.6L546.8 793.2L546.1 794.9L545.4 796.6L544.7 798.2L543.9 799.8L543.1 801.4L542.4 803.0L541.6 804.5L540.8 806.0L540.0 807.5L539.2 808.9L538.3 810.3L537.5 811.7L536.6 813.1L535.7 814.4L534.8 815.7L533.9 817.0L533.0 818.3L532.1 819.5L531.1 820.7L530.2 821.8L529.3 822.9L528.4 824.0L527.5 825.0L526.6 826.0L525.8 826.8L525.0 827.7L524.1 828.5L523.3 829.2L522.5 830.0L521.7 830.7L520.9 831.3L520.0 832.0L519.1 832.6L518.2 833.2L517.2 833.8L516.1 834.4L515.0 835.0L513.8 835.6L512.6 836.2L511.3 836.7L510.0 837.2L508.7 837.7L507.3 838.2L505.8 838.7L504.4 839.2L502.9 839.7L501.4 840.1L499.8 840.6L498.2 841.1L496.6 841.5L495.0 842.0L493.4 842.5L491.8 842.9L490.3 843.3L488.8 843.6L487.3 844.0L485.7 844.4L484.1 844.8L482.4 845.1L480.6 845.6L478.6 846.0L476.5 846.6L474.2 847.1L471.7 847.8L468.9 848.5L465.8 849.3L462.5 850.2L458.8 851.2L455.0 852.3L451.0 853.4L446.8 854.5L442.5 855.7L438.3 856.8L434.0 858.0L429.7 859.2L425.6 860.3L421.6 861.5L417.8 862.5L414.2 863.5L410.7 864.5L407.2 865.5L403.8 866.5L400.3 867.5L396.9 868.5L393.6 869.4L390.3 870.4L387.2 871.3L384.2 872.1L381.4 872.9L378.7 873.7L376.3 874.3L374.1 874.9L372.1 875.3L370.4 875.6L369.0 875.9L367.9 876.1L367.0 876.2L366.3 876.2L365.8 876.2L365.4 876.1L365.0 875.9L364.7 875.8L364.4 875.5L364.1 875.3L363.7 875.0L363.2 874.8L362.5 874.5L361.7 874.2L360.9 873.9L360.1 873.5L359.3 873.1L358.5 872.7L357.6 872.2L356.7 871.7L355.9 871.2L355.1 870.7L354.2 870.1L353.4 869.5L352.7 868.8L351.9 868.2L351.2 867.5L350.6 866.8L349.9 866.0L349.3 865.2L348.7 864.4L348.1 863.5L347.5 862.7L347.0 861.8L346.4 860.8L345.9 859.9L345.4 858.9L345.0 857.9L344.5 857.0L344.1 856.0L343.8 855.0L343.4 854.0L343.1 853.0L342.8 852.0L342.6 850.9L342.3 849.8L342.1 848.7L342.0 847.7L341.8 846.6L341.7 845.5L341.5 844.4L341.4 843.3L341.4 842.2L341.3 841.1L341.2 840.0L341.2 838.9L341.2 837.9L341.3 836.8L341.3 835.8L341.4 834.7L341.5 833.7L341.6 832.7L341.8 831.6L341.9 830.5L342.0 829.5L342.2 828.4L342.3 827.3L342.4 826.1L342.5 825.0L342.6 823.8L342.7 822.7L342.9 821.5L343.0 820.3L343.2 819.1L343.3 817.9L343.5 816.7L343.6 815.5L343.7 814.2L343.8 812.9L343.8 811.6L343.9 810.3L343.8 808.9L343.8 807.5L343.6 806.0L343.4 804.5L343.1 803.0L342.8 801.4L342.5 799.8L342.1 798.2L341.7 796.6L341.3 794.9L340.9 793.2L340.6 791.6L340.2 789.9L339.9 788.3L339.7 786.6L339.5 785.0L339.4 783.4L339.2 781.7L339.1 780.1L339.1 778.4L339.0 776.8L339.0 775.1L339.0 773.4L339.0 771.8L339.0 770.2L339.1 768.6L339.1 767.0L339.2 765.5L339.4 764.0L339.5 762.5L339.7 761.1L339.9 759.8L340.1 758.6L340.4 757.4L340.7 756.3L341.0 755.2L341.3 754.1L341.7 752.9L342.0 751.8L342.4 750.6L342.7 749.3L343.1 748.0L343.4 746.5L343.8 745.0L344.1 743.3L344.5 741.5L344.9 739.6L345.3 737.6L345.7 735.6L346.1 733.5L346.5 731.4L346.9 729.3L347.3 727.1L347.7 725.1L348.0 723.1L348.3 721.1L348.6 719.2L348.8 717.5L348.9 715.8L348.9 714.2L348.9 712.7L348.8 711.1L348.7 709.6L348.6 708.2L348.5 706.8L348.4 705.4L348.3 704.1L348.2 702.8L348.1 701.5L348.1 700.3L348.2 699.1L348.4 697.9L348.6 696.8L348.9 695.8L349.1 694.8L349.4 693.9L349.7 693.1L350.1 692.2L350.5 691.4L350.9 690.6L351.4 689.8L351.9 689.0L352.5 688.2L353.2 687.3L353.9 686.3L354.7 685.3L355.5 684.2L356.4 683.2L357.4 682.1L358.3 681.0L359.4 679.9L360.4 678.8L361.6 677.6L362.8 676.4L364.0 675.2L365.4 674.0L366.8 672.6L368.3 671.3L369.9 669.9L371.6 668.4L373.4 666.9L375.3 665.2L377.4 663.5L379.6 661.7L381.8 659.9L384.1 658.1L386.5 656.2L388.9 654.3L391.3 652.4L393.8 650.5L396.2 648.6L398.6 646.8L400.9 645.0L403.2 643.2L405.5 641.5L407.7 639.8L410.0 638.1L412.2 636.4L414.5 634.7L416.7 633.0L418.9 631.3L421.2 629.7L423.4 628.0L425.7 626.4L427.9 624.8L430.2 623.2L432.4 621.6L434.7 620.0L437.0 618.4L439.2 616.9L441.5 615.3L443.8 613.8L446.0 612.3L448.3 610.7L450.6 609.2L452.8 607.7L455.1 606.3L457.3 604.8L459.6 603.3L461.8 601.9L464.1 600.4L466.3 599.0L468.5 597.6L470.8 596.1L473.1 594.6L475.4 593.2L477.6 591.7L479.9 590.3L482.2 588.8L484.4 587.4L486.6 586.1L488.8 584.8L490.9 583.5L492.9 582.3L494.9 581.1L496.8 580.0L498.6 579.0L500.2 578.1L501.7 577.2L503.1 576.4L504.4 575.7L505.7 575.0L507.0 574.3L508.4 573.7L509.7 573.0L511.2 572.4L512.7 571.7L514.5 571.0L516.3 570.3L518.4 569.5L520.7 568.7L523.1 567.8L525.6 567.0L528.3 566.1L531.1 565.2L533.9 564.3L536.9 563.4L539.9 562.5L542.9 561.6L545.9 560.7L548.9 559.9L552.0 559.1L555.0 558.3L557.9 557.6L560.9 556.9L563.9 556.2L567.1 555.6L570.2 554.9L573.5 554.3L576.7 553.7L579.9 553.2L583.0 552.6L586.1 552.1L589.2 551.6L592.1 551.1L594.9 550.6L597.5 550.1L600.0 549.7L602.4 549.3L604.7 548.9L606.9 548.5L609.0 548.1L611.1 547.8L613.1 547.4L615.0 547.1L616.8 546.8L618.4 546.5L620.0 546.3L621.4 546.1L622.6 545.8L623.7 545.7L624.7 545.5"/>
<path class="l" d="M610.0 561.1L608.9 563.4L607.8 565.6L606.6 567.9L605.5 570.0L604.5 572.1L603.5 573.9L602.6 575.6L601.7 577.2L600.8 578.8L599.9 580.3L599.0 581.8L598.1 583.3L597.1 584.9L596.1 586.4L595.2 588.0L594.2 589.6L593.1 591.2L592.1 592.9L591.0 594.7L590.0 596.5L589.0 598.3L588.0 600.1L586.9 601.9L585.9 603.7L584.9 605.5L583.8 607.4L582.8 609.3L581.7 611.1L580.7 613.0L579.7 614.9L578.7 616.7L577.8 618.5L576.8 620.3L575.9 622.2L575.0 624.1L574.1 625.9L573.2 627.8L572.5 629.6L571.7 631.3L571.0 633.0L570.3 634.6L569.7 636.2L569.1 637.6L568.5 639.0L567.9 640.3L567.3 641.5L566.8 642.5L566.3 643.5L565.8 644.3L565.3 645.0L564.7 645.8L564.0 646.6L563.3 647.5L562.5 648.4L561.7 649.4L560.8 650.4L559.8 651.6L558.8 652.8L557.7 654.2L556.7 655.7L555.6 657.4L554.7 659.1L553.9 660.6L553.3 662.0L552.8 663.4L552.3 664.8L551.8 666.2L551.4 667.6L551.1 669.0L550.8 670.3L550.5 671.7L550.3 673.0L550.1 674.3L550.0 675.6L549.8 677.0L549.6 678.5L549.4 680.2L549.2 682.1L549.1 683.9L549.0 685.8L548.9 687.7L548.9 689.6L548.8 691.5L548.7 693.4L548.7 695.3L548.6 697.1L548.6 698.9L548.5 700.7L548.4 702.4L548.3 704.1L548.2 705.7L548.0 707.3L547.9 709.0L547.7 710.6L547.5 712.2L547.3 713.9L547.2 715.6L547.0 717.3L546.8 719.1L546.6 720.9L546.4 722.8L546.2 724.8L546.0 726.8L545.8 728.9L545.6 731.1L545.5 733.5L545.3 735.9L545.2 738.3L545.0 740.7L544.9 743.2L544.8 745.6L544.6 748.0L544.5 750.4L544.3 752.7L544.1 754.8L543.9 756.9L543.7 758.8L543.4 760.5L543.1 762.1L542.8 763.7L542.5 765.2L542.2 766.7L541.9 768.0L541.5 769.4L541.1 770.7L540.7 772.0L540.3 773.4L539.9 774.7L539.4 776.1L538.9 777.5L538.3 779.0L537.8 780.6L537.2 782.1L536.6 783.6L536.0 785.2L535.4 786.7L534.8 788.3L534.2 789.8L533.5 791.3L532.8 792.8L532.1 794.3L531.4 795.8L530.7 797.2L530.1 798.6L529.4 799.9L528.7 801.1L528.0 802.4L527.2 803.6L526.5 804.8L525.7 806.0L524.9 807.2L524.1 808.3L523.4 809.4L522.6 810.5L521.7 811.6L521.0 812.6L520.2 813.6L519.4 814.5L518.6 815.4L517.9 816.3L517.1 817.1L516.4 817.9L515.7 818.5L515.1 819.1L514.6 819.7L514.0 820.1L513.5 820.6L513.0 821.0L512.5 821.4L511.9 821.8L511.3 822.2L510.6 822.6L509.8 823.0L509.0 823.5L508.2 823.9L507.3 824.3L506.3 824.7L505.3 825.1L504.2 825.5L503.0 826.0L501.8 826.4L500.4 826.8L499.1 827.2L497.6 827.7L496.1 828.1L494.6 828.6L493.0 829.0L491.4 829.5L489.9 829.9L488.5 830.3L487.1 830.7L485.7 831.0L484.3 831.4L482.8 831.7L481.2 832.1L479.5 832.5L477.6 832.9L475.6 833.4L473.4 833.9L471.0 834.5L468.4 835.2L465.6 835.9L462.5 836.8L459.1 837.7L455.4 838.7L451.6 839.7L447.5 840.8L443.4 842.0L439.1 843.1L434.8 844.3L430.5 845.5L426.3 846.7L422.1 847.8L418.1 848.9L414.3 850.0L410.7 851.0L407.2 852.0L403.7 853.0L400.1 854.0L396.7 855.0L393.3 856.0L389.9 857.0L386.7 857.9L383.6 858.8L380.7 859.6L377.9 860.4L375.4 861.1L373.1 861.7L371.1 862.2L369.3 862.6L367.9 862.9L366.8 863.1L367.4 863.3L369.0 863.6L368.7 863.0L367.4 862.4L366.6 862.1L366.1 861.9L365.6 861.7L365.0 861.4L364.5 861.2L363.9 860.9L363.4 860.6L362.9 860.2L362.4 859.9L361.9 859.6L361.5 859.3L361.2 859.0L360.9 858.7L360.6 858.5L360.3 858.1L360.0 857.7L359.6 857.3L359.2 856.8L358.9 856.3L358.5 855.7L358.1 855.1L357.8 854.5L357.4 853.8L357.1 853.2L356.8 852.5L356.5 851.9L356.2 851.2L356.0 850.6L355.8 850.0L355.6 849.4L355.4 848.7L355.2 848.0L355.1 847.3L354.9 846.5L354.8 845.7L354.7 844.8L354.6 844.0L354.5 843.1L354.4 842.2L354.3 841.3L354.3 840.4L354.2 839.5L354.2 838.8L354.2 838.2L354.3 837.5L354.3 836.7L354.4 835.9L354.5 835.1L354.6 834.2L354.7 833.2L354.8 832.1L354.9 831.0L355.1 829.9L355.2 828.6L355.3 827.4L355.5 826.1L355.5 825.1L355.6 824.1L355.8 823.1L355.9 822.0L356.1 820.8L356.2 819.5L356.4 818.2L356.5 816.7L356.7 815.2L356.8 813.6L356.8 812.0L356.9 810.2L356.8 808.4L356.7 806.5L356.5 804.5L356.2 802.5L355.9 800.6L355.5 798.8L355.2 797.0L354.8 795.3L354.4 793.6L354.0 792.0L353.6 790.4L353.3 788.9L353.0 787.5L352.8 786.1L352.6 784.9L352.4 783.7L352.3 782.3L352.2 780.9L352.1 779.4L352.1 777.9L352.0 776.4L352.0 774.9L352.0 773.4L352.0 772.0L352.0 770.5L352.1 769.1L352.1 767.7L352.2 766.4L352.3 765.1L352.4 763.9L352.5 762.9L352.7 762.1L352.8 761.3L353.0 760.5L353.2 759.6L353.5 758.8L353.8 757.8L354.1 756.7L354.5 755.5L354.8 754.2L355.3 752.7L355.7 751.2L356.1 749.5L356.5 747.7L356.8 746.0L357.2 744.2L357.6 742.3L358.0 740.3L358.4 738.2L358.9 736.0L359.3 733.9L359.7 731.6L360.1 729.4L360.5 727.2L360.9 725.1L361.2 722.9L361.5 720.8L361.7 718.7L361.9 716.5L361.9 714.4L361.9 712.3L361.8 710.4L361.6 708.7L361.3 707.1L361.1 705.6L360.8 704.3L360.6 703.2L360.4 702.2L360.3 701.4L360.1 700.8L360.0 700.3L360.0 699.9L360.0 699.2L360.0 698.6L360.0 698.0L360.0 697.6L360.1 697.2L360.1 696.8L360.1 696.4L360.2 696.0L360.4 695.5L360.6 694.9L361.1 694.3L361.6 693.6L362.2 692.7L362.9 691.8L363.7 690.9L364.4 690.0L365.2 689.0L366.1 688.1L367.0 687.1L368.0 686.1L369.0 685.1L370.1 684.0L371.3 682.8L372.5 681.6L373.9 680.4L375.3 679.1L376.9 677.8L378.5 676.3L380.2 674.9L382.1 673.3L384.1 671.6L386.2 669.9L388.4 668.1L390.7 666.3L393.0 664.4L395.4 662.5L397.8 660.7L400.2 658.8L402.6 656.9L405.0 655.1L407.3 653.3L409.6 651.5L411.8 649.8L414.1 648.1L416.3 646.4L418.5 644.8L420.7 643.1L423.0 641.4L425.2 639.8L427.4 638.2L429.6 636.5L431.8 634.9L434.1 633.3L436.3 631.7L438.5 630.2L440.7 628.6L442.9 627.1L445.2 625.5L447.4 624.0L449.6 622.5L451.9 621.0L454.1 619.5L456.4 618.0L458.6 616.5L460.8 615.1L463.1 613.6L465.3 612.1L467.5 610.7L469.8 609.3L472.0 607.8L474.2 606.4L476.5 604.9L478.7 603.5L481.0 602.0L483.3 600.6L485.5 599.1L487.8 597.7L490.0 596.4L492.1 595.0L494.2 593.7L496.3 592.5L498.3 591.3L500.2 590.2L502.0 589.1L503.8 588.1L505.4 587.2L506.9 586.3L508.2 585.6L509.5 584.9L510.6 584.3L511.8 583.7L512.9 583.1L514.1 582.5L515.4 582.0L516.8 581.4L518.3 580.8L520.1 580.1L522.0 579.4L524.2 578.6L526.5 577.8L529.0 576.9L531.6 576.1L534.3 575.2L537.1 574.3L539.9 573.4L542.8 572.6L545.8 571.7L548.7 570.9L551.7 570.0L554.6 569.3L557.5 568.5L560.4 567.8L563.2 567.1L566.1 566.5L569.2 565.9L572.3 565.3L575.4 564.7L578.5 564.1L581.7 563.5L584.8 563.0L587.9 562.4L590.9 561.9L593.8 561.4L596.7 560.9L599.3 560.5L601.8 560.0L604.2 559.6L606.5 559.2L608.7 558.8L610.8 558.5L612.9 558.1L614.8 557.8Z"/>
<path class="l" d="M620.8 553.3L620.0 555.1L619.0 557.2L618.0 559.3L617.0 561.6L615.9 563.9L614.7 566.2L613.6 568.6L612.4 570.8L611.3 573.0L610.2 575.1L609.3 577.0L608.3 578.7L607.4 580.4L606.5 582.0L605.5 583.6L604.6 585.2L603.6 586.7L602.6 588.3L601.7 589.9L600.7 591.4L599.7 593.0L598.7 594.6L597.7 596.3L596.6 598.0L595.6 599.8L594.6 601.5L593.6 603.3L592.6 605.1L591.6 606.9L590.5 608.7L589.5 610.6L588.5 612.4L587.4 614.3L586.4 616.1L585.4 617.9L584.5 619.8L583.5 621.6L582.6 623.3L581.7 625.1L580.8 626.9L580.0 628.7L579.2 630.4L578.4 632.1L577.7 633.8L577.0 635.5L576.3 637.1L575.7 638.7L575.0 640.2L574.4 641.7L573.8 643.0L573.1 644.4L572.5 645.6L571.9 646.7L571.2 647.8L570.6 648.8L569.9 649.7L569.1 650.7L568.3 651.7L567.5 652.7L566.6 653.7L565.7 654.7L564.8 655.8L563.9 656.9L563.0 658.0L562.1 659.3L561.2 660.6L560.5 662.0L559.8 663.3L559.3 664.5L558.8 665.7L558.4 666.9L558.0 668.1L557.7 669.3L557.4 670.4L557.2 671.6L556.9 672.8L556.7 674.0L556.6 675.2L556.4 676.5L556.2 677.8L556.0 679.2L555.9 680.8L555.7 682.5L555.6 684.3L555.5 686.1L555.4 687.9L555.4 689.8L555.3 691.7L555.2 693.6L555.2 695.5L555.1 697.3L555.1 699.2L555.0 701.0L554.9 702.8L554.8 704.5L554.6 706.2L554.5 707.9L554.3 709.6L554.2 711.3L554.0 712.9L553.8 714.6L553.6 716.3L553.4 718.0L553.2 719.8L553.0 721.6L552.8 723.5L552.6 725.4L552.5 727.4L552.3 729.4L552.1 731.6L551.9 733.9L551.8 736.3L551.7 738.7L551.5 741.1L551.4 743.6L551.2 746.0L551.1 748.5L550.9 750.9L550.8 753.2L550.6 755.5L550.3 757.6L550.1 759.6L549.8 761.5L549.5 763.3L549.2 765.0L548.9 766.6L548.5 768.2L548.2 769.7L547.8 771.1L547.4 772.5L546.9 774.0L546.5 775.4L546.0 776.8L545.5 778.2L545.0 779.7L544.5 781.2L543.9 782.8L543.3 784.4L542.7 785.9L542.1 787.5L541.5 789.1L540.8 790.8L540.1 792.4L539.4 793.9L538.7 795.5L538.0 797.1L537.3 798.6L536.6 800.1L535.8 801.6L535.1 803.0L534.3 804.3L533.6 805.6L532.8 807.0L532.0 808.3L531.2 809.5L530.3 810.8L529.5 812.0L528.6 813.2L527.8 814.4L526.9 815.6L526.0 816.7L525.2 817.7L524.3 818.7L523.5 819.7L522.7 820.6L521.9 821.5L521.1 822.4L520.3 823.1L519.6 823.8L519.0 824.5L518.3 825.1L517.6 825.6L516.9 826.2L516.2 826.7L515.5 827.2L514.7 827.7L513.9 828.2L513.0 828.7L512.0 829.2L511.0 829.7L509.9 830.2L508.8 830.7L507.7 831.2L506.4 831.6L505.1 832.1L503.8 832.5L502.4 833.0L501.0 833.4L499.5 833.9L498.0 834.4L496.4 834.8L494.8 835.3L493.2 835.8L491.6 836.2L490.2 836.6L488.7 837.0L487.3 837.3L485.8 837.7L484.3 838.0L482.7 838.4L480.9 838.8L479.1 839.2L477.1 839.7L474.9 840.2L472.6 840.8L470.0 841.5L467.2 842.2L464.2 843.0L460.8 844.0L457.1 844.9L453.3 846.0L449.2 847.1L445.1 848.2L440.8 849.4L436.5 850.6L432.2 851.8L428.0 852.9L423.9 854.1L419.9 855.2L416.1 856.2L412.5 857.2L409.0 858.2L405.5 859.2L402.0 860.2L398.5 861.2L395.1 862.2L391.7 863.2L388.5 864.1L385.4 865.0L382.4 865.9L379.7 866.7L377.1 867.4L374.7 868.0L372.6 868.5L370.7 868.9L369.2 869.3L367.9 869.5L367.1 869.6L366.5 869.7L366.6 869.7L367.2 869.8L367.7 869.9L366.9 869.4L365.9 868.9L364.9 868.5L364.2 868.2L363.5 867.9L362.9 867.6L362.2 867.3L361.5 866.9L360.8 866.5L360.1 866.1L359.4 865.7L358.7 865.3L358.1 864.8L357.5 864.4L356.9 863.9L356.4 863.5L355.9 863.0L355.4 862.5L354.9 861.9L354.5 861.3L354.0 860.6L353.5 859.9L353.0 859.2L352.5 858.4L352.1 857.7L351.7 856.9L351.3 856.1L350.9 855.2L350.5 854.4L350.2 853.6L349.9 852.8L349.6 852.0L349.3 851.2L349.1 850.3L348.9 849.5L348.7 848.6L348.5 847.6L348.4 846.7L348.2 845.7L348.1 844.7L348.0 843.7L347.9 842.7L347.9 841.7L347.8 840.7L347.7 839.8L347.7 838.9L347.7 838.0L347.8 837.1L347.8 836.3L347.9 835.3L348.0 834.4L348.1 833.4L348.2 832.4L348.3 831.3L348.5 830.3L348.6 829.1L348.8 828.0L348.9 826.7L349.0 825.6L349.1 824.5L349.2 823.4L349.3 822.3L349.5 821.2L349.6 820.0L349.8 818.7L349.9 817.4L350.1 816.1L350.2 814.7L350.3 813.3L350.3 811.8L350.4 810.2L350.3 808.7L350.2 807.0L350.1 805.3L349.8 803.5L349.5 801.8L349.2 800.1L348.8 798.4L348.4 796.7L348.0 795.1L347.6 793.4L347.3 791.8L346.9 790.2L346.6 788.7L346.3 787.2L346.1 785.8L346.0 784.3L345.8 782.9L345.7 781.3L345.6 779.7L345.6 778.2L345.5 776.6L345.5 775.0L345.5 773.4L345.5 771.9L345.5 770.3L345.6 768.8L345.6 767.4L345.7 765.9L345.8 764.5L346.0 763.2L346.1 762.0L346.3 761.0L346.5 759.9L346.7 759.0L347.0 758.0L347.2 757.0L347.5 755.9L347.9 754.8L348.2 753.6L348.6 752.4L349.0 751.0L349.4 749.6L349.7 748.0L350.1 746.3L350.5 744.6L350.8 742.9L351.2 740.9L351.6 739.0L352.1 736.9L352.5 734.8L352.9 732.6L353.3 730.5L353.7 728.3L354.1 726.2L354.4 724.1L354.7 722.0L355.0 720.0L355.2 718.1L355.4 716.2L355.4 714.3L355.4 712.5L355.3 710.8L355.3 709.1L355.1 707.6L355.0 706.2L354.9 704.8L354.9 703.6L354.8 702.4L354.8 701.4L354.8 700.5L354.9 699.8L355.1 699.0L355.2 698.2L355.5 697.4L355.7 696.7L355.9 696.2L356.1 695.6L356.3 695.1L356.6 694.6L356.9 694.1L357.3 693.6L357.7 692.9L358.2 692.2L358.8 691.5L359.5 690.6L360.2 689.6L361.0 688.7L361.8 687.7L362.6 686.7L363.5 685.7L364.4 684.7L365.5 683.7L366.5 682.6L367.7 681.5L368.9 680.3L370.2 679.1L371.5 677.8L373.0 676.5L374.5 675.1L376.2 673.7L377.9 672.2L379.8 670.6L381.9 668.9L384.0 667.2L386.2 665.4L388.5 663.5L390.8 661.7L393.2 659.8L395.6 657.9L398.0 656.0L400.5 654.2L402.8 652.3L405.2 650.5L407.5 648.8L409.7 647.0L411.9 645.3L414.2 643.6L416.4 642.0L418.6 640.3L420.9 638.6L423.1 637.0L425.3 635.3L427.6 633.7L429.8 632.1L432.0 630.5L434.3 628.9L436.5 627.3L438.7 625.7L440.9 624.2L443.2 622.6L445.4 621.1L447.7 619.6L449.9 618.1L452.2 616.6L454.4 615.1L456.7 613.6L458.9 612.1L461.2 610.7L463.4 609.2L465.6 607.8L467.9 606.3L470.1 604.9L472.3 603.4L474.6 602.0L476.9 600.5L479.1 599.1L481.4 597.6L483.7 596.2L485.9 594.8L488.1 593.4L490.3 592.0L492.4 590.7L494.5 589.5L496.5 588.3L498.4 587.1L500.3 586.1L502.0 585.1L503.7 584.1L505.1 583.3L506.5 582.5L507.8 581.8L509.0 581.2L510.2 580.5L511.4 580.0L512.7 579.4L514.0 578.8L515.4 578.2L517.0 577.5L518.8 576.8L520.8 576.1L523.0 575.3L525.4 574.5L527.9 573.6L530.5 572.7L533.2 571.9L536.0 571.0L538.9 570.1L541.8 569.2L544.8 568.3L547.8 567.5L550.8 566.7L553.7 565.9L556.7 565.1L559.5 564.4L562.4 563.7L565.4 563.1L568.5 562.4L571.6 561.8L574.7 561.2L577.9 560.6L581.1 560.1L584.2 559.5L587.3 559.0L590.3 558.5L593.3 558.0L596.1 557.5L598.7 557.0L601.2 556.6L603.6 556.2L605.9 555.8L608.1 555.4L610.2 555.0L612.3 554.7L614.3 554.3L616.1 554.0L617.9 553.7L619.6 553.4Z"/>
<path class="l" d="M353.0 693.6L353.3 692.9L353.7 692.2L354.1 691.5L354.6 690.8L355.1 690.0L355.7 689.2L356.4 688.3L357.2 687.3L358.0 686.3L358.9 685.3L359.8 684.2L360.7 683.2L361.7 682.1L362.7 681.0L363.8 679.9L365.0 678.7L366.3 677.5L367.6 676.3L369.0 675.0L370.5 673.7L372.0 672.3L373.7 670.8L375.5 669.3L377.4 667.7L379.4 666.0L381.6 664.2L383.8 662.4L386.1 660.6L388.5 658.7L390.9 656.8L393.3 654.9L395.7 653.0L398.1 651.1L400.5 649.3L402.9 647.5L405.1 645.7L407.4 644.0L409.6 642.3L411.9 640.6L414.1 638.9L416.4 637.2L418.6 635.6L420.8 633.9L423.1 632.3L425.3 630.6L427.6 629.0L429.8 627.4L432.1 625.8L434.3 624.2L436.5 622.6L438.8 621.1L441.0 619.5L443.3 618.0L445.5 616.4L447.8 614.9L450.1 613.4L452.3 611.9L454.6 610.4L456.8 608.9L459.1 607.5L461.3 606.0L463.6 604.6L465.8 603.1L468.0 601.7L470.3 600.3L472.5 598.8L474.8 597.3L477.1 595.9L479.4 594.4L481.6 593.0L483.9 591.6L486.1 590.2L488.3 588.8L490.4 587.5L492.5 586.2L494.5 585.0L496.5 583.9L498.4 582.8L500.2 581.8L501.8 580.8L503.3 580.0L504.7 579.2L506.0 578.5L507.2 577.8L508.5 577.2L509.8 576.5L511.1 575.9L512.5 575.3L514.0 574.6L515.6 574.0L517.5 573.3L519.5 572.5L521.7 571.7L524.1 570.9L526.7 570.0L529.3 569.1L532.1 568.2L534.9 567.3L537.8 566.4L540.8 565.6L543.8 564.7L546.8 563.8L549.8 563.0L552.8 562.2L555.7 561.4L558.7 560.7L561.6 560.0L564.6 559.4L567.7 558.7L570.9 558.1L574.0 557.5L577.2 556.9L580.4 556.3L583.6 555.8L586.7 555.2L589.7 554.7L592.6 554.2L595.4 553.8L598.1 553.3L600.6 552.9L602.9 552.4L605.2 552.0L607.4 551.6L609.6 551.3L611.7 550.9L613.6 550.6L615.5 550.3L617.3 550.0L618.9 549.7L620.5 549.4L621.9 549.2L623.1 549.0L624.3 548.8"/>
</g>
<g id="dashes">
<path class="d" d="M381 518.8L293.8 541.8V689"/>
<path class="d" d="M645.5 494V526.3L457.9 574.7V598.4"/>
<path class="d" d="M655 578.8L501.3 618.2"/>
<path class="d" d="M627.5 769.5L492.5 692.5"/>
<path class="d" d="M527.5 712.5L512.5 788.8L493.8 776.3"/>
<path class="d" d="M139.5 658.8L183 648V811.3L212 805"/>
<path class="d" d="M183 713.8L252.5 698.8"/>
<path class="d" d="M135 772L267.5 740"/>
<path class="d" d="M90 750L100.5 748V771.3L106 772"/>
<path class="d" d="M280 870.5L253.8 855.5L330 845.5V712"/>
<path class="d" d="M330 833L363 825"/>
<path class="dk" d="M88 800V895.5L100 892.5"/>
</g>
<g id="leaders">
<path class="l" d="M388 452V510.5M584.5 483.4H635.5M663.8 583.8V612.5M130 625.5V655.5M80.8 715V745.5M118.3 792.5V825M258 878H279.5M112.5 895V925.5M388.5 873.8V965M472.5 878.8V931.3M639.3 741.3V772.5M614.4 943.3V977" style="stroke-width:1.5"/>
<path class="k" d="M303.8 857.5V958.8H473.8"/>
<path class="l" d="M473 951V958.8" style="stroke-width:1.8"/>
</g>
<ellipse class="w" cx="386.5" cy="516.3" rx="4.600" ry="6" transform="rotate(28 386.5 516.3)"/>
<ellipse class="w" cx="284.3" cy="874.3" rx="4.600" ry="6" transform="rotate(28 284.3 874.3)"/>
<circle class="l" cx="80" cy="755.4" r="9.600"/>
<circle cx="131" cy="662" r="5.2" fill="#fff" stroke="#000" stroke-width="2.8"/><circle cx="131.3" cy="662.3" r="1.600" fill="none" stroke="#000" stroke-width="1.300"/><path class="l" d="M126 666L129 668.5L134 668"/>
<circle cx="663" cy="576.3" r="5.2" fill="#fff" stroke="#000" stroke-width="2.8"/><circle cx="663.3" cy="576.5999999999999" r="1.600" fill="none" stroke="#000" stroke-width="1.300"/><path class="l" d="M658 580.3L661 582.8L666 582.3"/>
<g id="grommet"><path class="w" style="stroke-width:1.6" d="M633 771.500L639 770.500C643 770.500 645.600 774 645.600 778C645.600 781.500 643.500 784 640.500 784L634.500 781.500C632 780 631 777 631.300 774.500C631.500 773 632 772 633 771.500Z"/><ellipse class="l" cx="641" cy="778" rx="2.800" ry="3.600" transform="rotate(-15 641 778)"/><ellipse class="l" cx="641.300" cy="778.200" rx="1" ry="1.500"/></g>
<g id="bolt"><path class="w" style="stroke-width:1.6" d="M108 882.500L117.500 881.300L121.800 885L121.300 892L117 895.300L108.500 894.500L105.800 889Z"/><circle class="l" cx="111" cy="888.500" r="2.600"/><path class="l" style="stroke-width:1.6" d="M106 886.500L100.500 888.500L100.300 892.500L106 892M103 887.500V892.500"/></g>
<g id="clip67869b"><path class="w" d="M301.200 850.300C301.200 849 305 848.600 305.300 850L305.800 856C305.800 857.600 302 858 301.700 856.500Z"/><path class="l" d="M306 851L315.500 849.300M306.300 855L315.800 853.300M308.500 850.500V854.700M311 850V854.200M313.500 849.600V853.800M315.600 849.300V853.400"/></g>
<g id="starclip"><path class="w" d="M470.500 857.500L474.500 857.500L476.500 862.500L479 870L477 873.500L468 873.500L466 870L468.500 862.500Z"/><path class="l" d="M472.500 858V870M469.500 864L470.500 871M475.500 864L474.500 871"/><ellipse class="w" style="stroke-width:1.6" cx="472.500" cy="875.500" rx="8" ry="3.300"/><path class="l" d="M467 878.300C469 880.500 476 880.500 478 878.300"/></g>
<g id="pad"><path class="w" style="stroke-width:1.5" d="M637.500 474.500L655 471.300C656.500 471.200 657.300 472 657.400 473.500L657.600 486C657.600 487.500 657 488 655.500 488.300L637.500 492.700C636 492.900 635.500 492 635.500 490.500L635.800 476.500C635.800 475.300 636.300 474.800 637.500 474.500Z"/><path class="l" d="M638 477.300L654.500 474.200M654.800 474.500V486.500"/></g>
<g transform="translate(560,700) scale(0.25000)">
<path class="w" d="M165 435L465 345Q498 341 500 352L503 385Q528 425 530 445L530 675Q515 730 480 780L420 880Q340 925 260 960Q215 975 172 970Q125 930 100 905Q93 890 95 600Q110 510 165 435Z"/>
</g>
<path class="l" d="M606.300 816V824M604.500 839.500H609.500M607 837V842M646.300 808.500V824M641 856L656.500 851.600"/>
<circle class="l" cx="646.300" cy="807.800" r="1"/><circle class="l" cx="646.300" cy="825" r="1"/><circle class="l" cx="640.300" cy="856.200" r="1"/><circle class="l" cx="657.400" cy="851.300" r="1"/>
<g id="check">
<g transform="translate(55,640) scale(0.15790)">
<path class="wh" d="M65 890L150 885L185 920L185 1000L170 1020L130 1000L100 950L70 920Z"/>
<path class="wh" d="M150 890L340 880L350 900L330 918L185 928Z"/>
<path class="wh" d="M330 800L360 775L420 800L470 820L500 830L505 870L480 900L440 930L400 975L340 950L330 900Z"/>
<path class="h" d="M380 810L380 960"/>
<path class="h" d="M415 810L415 950"/>
<path class="h" d="M440 840L440 930"/>
<path class="h" d="M470 830L470 900"/>
<path class="h" d="M345 790L345 900"/>
<path class="h" d="M100 900L140 900M330 840L420 860L500 850"/>
<path class="h" d="M340 920L400 940"/>
<path class="h" d="M355 840L355 940M395 860L395 960M425 870L425 935"/>
<path class="h" d="M200 905L320 898"/>
</g>
<g transform="translate(55,640) scale(0.15790)"><circle class="l" cx="150" cy="965" r="8"/><circle class="wh" cx="490" cy="852" r="16"/><circle class="h" cx="362" cy="790" r="9"/><circle class="h" cx="405" cy="808" r="9"/></g>
</g>
<g transform="translate(330,600) scale(0.25000)">
<path class="l" d="M290 1022L296 1032L302 1024"/>
<path class="l" d="M425 990L431 1000L437 992"/>
<path class="l" d="M565 955L571 965L577 957"/>
<path class="l" d="M690 920L696 930L702 922"/>
<path class="l" d="M175 1055L181 1065L187 1057"/>
<path class="h" d="M112 1060L195 1074"/>
<path class="h" d="M116 440L119 480"/>
</g>
<g transform="translate(470,600) scale(0.25000)">
<path class="l" d="M335 290L342 302L348 292"/>
<path class="l" d="M313 425L318 437L324 427"/>
<path class="l" d="M300 580L306 592L312 582"/>
<path class="l" d="M285 695L291 707L297 697"/>
<path class="l" d="M228 830L236 840L240 828"/>
<path class="l" d="M130 915L138 925L144 915"/>
</g>

<g style="filter:grayscale(1)">
<rect x="188" y="510" width="100" height="36" fill="#fff"/>
<text y="525.00" font-size="16.6"><tspan x="191.25" textLength="54.25" lengthAdjust="spacingAndGlyphs">67111</tspan> <tspan x="254.25" textLength="32.00" lengthAdjust="spacingAndGlyphs">(RH)</tspan></text>
<text y="543.75" font-size="16.6"><tspan x="191.25" textLength="54.25" lengthAdjust="spacingAndGlyphs">67112</tspan> <tspan x="254.25" textLength="32.00" lengthAdjust="spacingAndGlyphs">(LH)</tspan></text>
<text y="78.75" font-size="16.6"><tspan x="160.75" textLength="54.25" lengthAdjust="spacingAndGlyphs">68101</tspan> <tspan x="223.75" textLength="31.75" lengthAdjust="spacingAndGlyphs">(RH)</tspan></text>
<text y="97.00" font-size="16.6"><tspan x="160.75" textLength="54.25" lengthAdjust="spacingAndGlyphs">68102</tspan> <tspan x="223.75" textLength="31.75" lengthAdjust="spacingAndGlyphs">(LH)</tspan></text>
<text y="190.50" font-size="16.6"><tspan x="348.25" textLength="66.75" lengthAdjust="spacingAndGlyphs">68141C</tspan> <tspan x="423.00" textLength="31.50" lengthAdjust="spacingAndGlyphs">(RH)</tspan></text>
<text y="209.50" font-size="16.6"><tspan x="348.25" textLength="66.75" lengthAdjust="spacingAndGlyphs">68151D</tspan> <tspan x="423.00" textLength="31.50" lengthAdjust="spacingAndGlyphs">(LH)</tspan></text>
<text y="287.00" font-size="16.6"><tspan x="342.50" textLength="65.50" lengthAdjust="spacingAndGlyphs">67403F</tspan> <tspan x="416.25" textLength="32.50" lengthAdjust="spacingAndGlyphs">(RH)</tspan></text>
<text y="306.25" font-size="16.6"><tspan x="342.50" textLength="65.50" lengthAdjust="spacingAndGlyphs">67404F</tspan> <tspan x="416.25" textLength="32.50" lengthAdjust="spacingAndGlyphs">(LH)</tspan></text>
<text y="403.75" font-size="16.6"><tspan x="280.50" textLength="103.25" lengthAdjust="spacingAndGlyphs">91511-B0610</tspan> <tspan x="391.25" textLength="16.75" lengthAdjust="spacingAndGlyphs">(2)</tspan></text>
<text y="450.00" font-size="16.6"><tspan x="335.50" textLength="104.50" lengthAdjust="spacingAndGlyphs">90333-30004</tspan> <tspan x="446.25" textLength="17.00" lengthAdjust="spacingAndGlyphs">(2)</tspan></text>
<text y="471.75" font-size="16.6"><tspan x="249.50" textLength="54.25" lengthAdjust="spacingAndGlyphs">67001</tspan> <tspan x="312.50" textLength="32.50" lengthAdjust="spacingAndGlyphs">(RH)</tspan></text>
<text y="489.50" font-size="16.6"><tspan x="249.50" textLength="54.25" lengthAdjust="spacingAndGlyphs">67002</tspan> <tspan x="312.50" textLength="32.50" lengthAdjust="spacingAndGlyphs">(LH)</tspan></text>
<text y="488.25" font-size="16.6"><tspan x="450.00" textLength="103.75" lengthAdjust="spacingAndGlyphs">67857-48010</tspan> <tspan x="561.25" textLength="16.25" lengthAdjust="spacingAndGlyphs">(2)</tspan></text>
<text y="628.00" font-size="16.6"><tspan x="613.00" textLength="102.75" lengthAdjust="spacingAndGlyphs">90950-01620</tspan> <tspan x="723.00" textLength="17.50" lengthAdjust="spacingAndGlyphs">(2)</tspan></text>
<text y="623.00" font-size="16.6"><tspan x="79.50" textLength="103.00" lengthAdjust="spacingAndGlyphs">90950-01841</tspan> <tspan x="190.00" textLength="17.00" lengthAdjust="spacingAndGlyphs">(4)</tspan></text>
<text y="712.50" font-size="16.6"><tspan x="28.00" textLength="103.25" lengthAdjust="spacingAndGlyphs">91511-B0614</tspan> <tspan x="138.75" textLength="17.00" lengthAdjust="spacingAndGlyphs">(4)</tspan></text>
<text y="840.50" font-size="16.6"><tspan x="95.75" textLength="66.25" lengthAdjust="spacingAndGlyphs">68610B</tspan> <tspan x="169.50" textLength="31.75" lengthAdjust="spacingAndGlyphs">(RH)</tspan></text>
<text y="858.75" font-size="16.6"><tspan x="95.75" textLength="54.75" lengthAdjust="spacingAndGlyphs">68620</tspan> <tspan x="169.50" textLength="31.75" lengthAdjust="spacingAndGlyphs">(LH)</tspan></text>
<text y="883.75" font-size="16.6"><tspan x="125.00" textLength="103.75" lengthAdjust="spacingAndGlyphs">90333-30004</tspan> <tspan x="235.00" textLength="17.50" lengthAdjust="spacingAndGlyphs">(2)</tspan></text>
<text y="942.00" font-size="16.6"><tspan x="60.00" textLength="103.00" lengthAdjust="spacingAndGlyphs">90109-08295</tspan> <tspan x="170.00" textLength="17.50" lengthAdjust="spacingAndGlyphs">(2)</tspan></text>
<text y="948.75" font-size="16.6"><tspan x="275.75" textLength="65.50" lengthAdjust="spacingAndGlyphs">67869B</tspan></text>
<text y="982.00" font-size="16.6"><tspan x="362.00" textLength="54.25" lengthAdjust="spacingAndGlyphs">67861</tspan> <tspan x="424.50" textLength="32.50" lengthAdjust="spacingAndGlyphs">(RH)</tspan></text>
<text y="1000.75" font-size="16.6"><tspan x="362.00" textLength="54.25" lengthAdjust="spacingAndGlyphs">67862</tspan> <tspan x="424.50" textLength="32.50" lengthAdjust="spacingAndGlyphs">(LH)</tspan></text>
<text y="992.75" font-size="16.6"><tspan x="589.50" textLength="53.50" lengthAdjust="spacingAndGlyphs">67831</tspan> <tspan x="652.00" textLength="31.75" lengthAdjust="spacingAndGlyphs">(RH)</tspan></text>
<text y="1011.50" font-size="16.6"><tspan x="589.50" textLength="53.50" lengthAdjust="spacingAndGlyphs">67832</tspan> <tspan x="652.00" textLength="31.75" lengthAdjust="spacingAndGlyphs">(LH)</tspan></text>
<text y="1085.25" font-size="16.6"><tspan x="633.75" textLength="88.75" lengthAdjust="spacingAndGlyphs">672217-D</tspan></text>
<text y="739.25" font-size="16.6"><tspan x="590.50" textLength="103.25" lengthAdjust="spacingAndGlyphs">90541-09069</tspan> <tspan x="701.25" textLength="17.00" lengthAdjust="spacingAndGlyphs">(4)</tspan></text>
<text y="345.00" font-size="16.6"><tspan x="488.25" textLength="66.75" lengthAdjust="spacingAndGlyphs">67867C</tspan> <tspan x="563.00" textLength="32.00" lengthAdjust="spacingAndGlyphs">(RH)</tspan></text>
<text y="364.25" font-size="16.6"><tspan x="488.25" textLength="66.75" lengthAdjust="spacingAndGlyphs">67868C</tspan> <tspan x="563.00" textLength="32.00" lengthAdjust="spacingAndGlyphs">(LH)</tspan></text>
<text y="359.25" font-size="16.6"><tspan x="643.75" textLength="66.25" lengthAdjust="spacingAndGlyphs">67867A</tspan></text>
<text x="586.30" y="270.98" text-anchor="middle" font-size="16.6">1</text>
<text x="705.80" y="137.28" text-anchor="middle" font-size="16.6">2</text>
<text x="543.30" y="307.28" text-anchor="middle" font-size="16.6">1</text>
<text x="677.00" y="307.28" text-anchor="middle" font-size="16.6">2</text>
<text x="334.50" y="368.08" text-anchor="middle" font-size="15.5">B</text>
<text x="80.00" y="761.08" text-anchor="middle" font-size="15.5">B</text>
<text class="ref" x="606.75" y="31.5" text-anchor="middle" font-size="14.5">※</text>
<text class="ref" x="472" y="949.5" text-anchor="middle" font-size="16.5">※</text>
</g>
</svg>
</body></html>
